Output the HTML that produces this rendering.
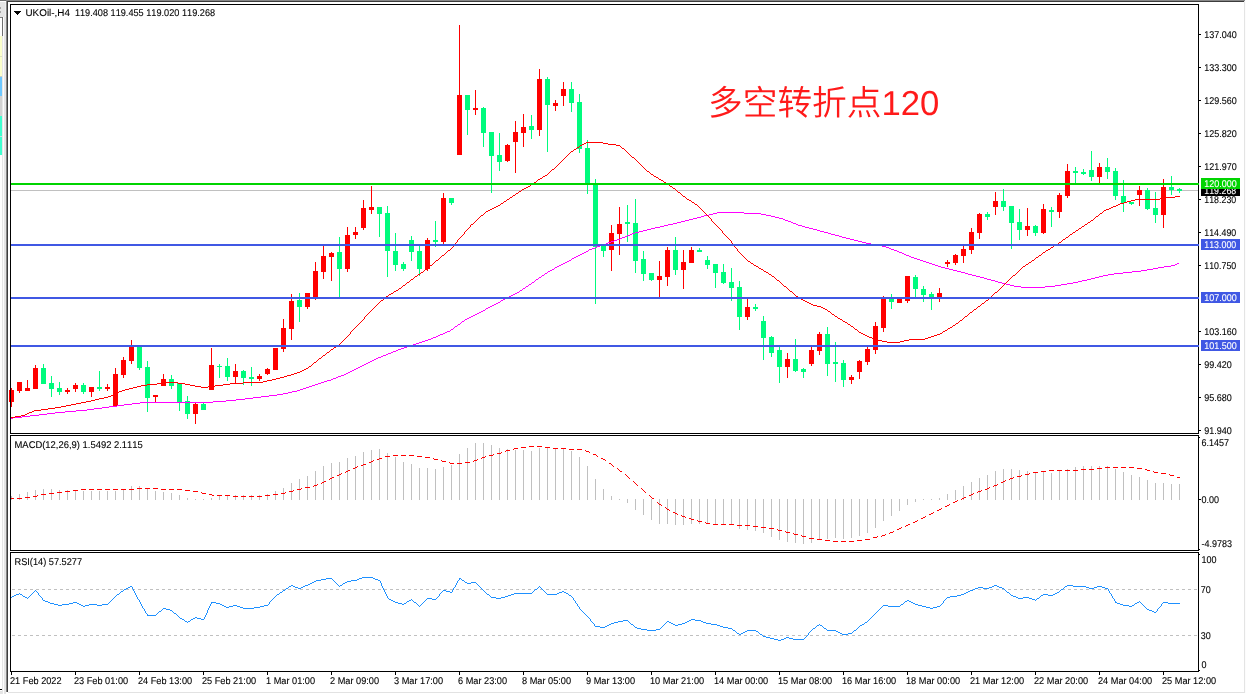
<!DOCTYPE html>
<html lang="zh"><head><meta charset="utf-8"><title>UKOil-,H4</title>
<style>html,body{margin:0;padding:0;background:#fff;overflow:hidden}svg{display:block}</style></head>
<body>
<svg width="1246" height="694" viewBox="0 0 1246 694" shape-rendering="crispEdges" font-family="'Liberation Sans', sans-serif" font-size="9.8px" text-rendering="geometricPrecision" style="font-kerning:none;font-variant-ligatures:none">
<rect x="0" y="0" width="1246" height="694" fill="#ffffff"/>
<g id="frame">
<rect x="0" y="2" width="6" height="15" fill="#e5e5e5"/>
<rect x="5" y="2" width="1" height="15" fill="#eeeeee"/>
<rect x="2" y="17" width="1" height="676" fill="#e6e6e6"/>
<rect x="3" y="17" width="1" height="676" fill="#fcfcfc"/>
<rect x="4" y="17" width="2" height="676" fill="#e4e4e4"/>
<rect x="0" y="17" width="2" height="19" fill="#ffffff"/>
<rect x="0" y="36" width="2" height="20" fill="#fbffcc"/>
<rect x="0" y="57" width="2" height="19" fill="#fbffcc"/>
<rect x="0" y="77" width="2" height="19" fill="#6ec8ff"/>
<rect x="0" y="96" width="2" height="20" fill="#d2d2d2"/>
<rect x="0" y="116" width="2" height="20" fill="#40ffd0"/>
<rect x="0" y="137" width="2" height="18" fill="#40ffd0"/>
<rect x="0" y="17" width="3" height="1" fill="#808080"/>
<rect x="2" y="17" width="1" height="19" fill="#707070"/>
<rect x="0" y="56" width="2" height="1" fill="#e0e4c0"/>
<rect x="0" y="76" width="2" height="1" fill="#c8d0c8"/>
<rect x="0" y="136" width="2" height="1" fill="#c0e8e0"/>
<rect x="0" y="7" width="1" height="2" fill="#a8a8a8"/>
<rect x="0" y="11" width="1" height="2" fill="#a8a8a8"/>
<rect x="6" y="1" width="1" height="691" fill="#858585"/>
<rect x="7" y="1" width="1" height="691" fill="#3e3e3e"/>
<rect x="0" y="0" width="6" height="1" fill="#707070"/>
<rect x="6" y="0" width="1239" height="1" fill="#888888"/>
<rect x="7" y="1" width="1237" height="1" fill="#3c3c3c"/>
<rect x="1244" y="1" width="1" height="692" fill="#e4e4e4"/>
<rect x="1245" y="0" width="1" height="694" fill="#fcfcfc"/>
<rect x="8" y="692" width="1237" height="1" fill="#e2e2e2"/>
<rect x="0" y="693" width="1246" height="1" fill="#ffffff"/>
<rect x="0" y="689" width="2" height="1" fill="#000000"/>
<rect x="0" y="691" width="2" height="3" fill="#e4e4e4"/>
<rect x="2" y="692" width="1" height="2" fill="#e6e6e6"/>
<rect x="4" y="692" width="2" height="2" fill="#e4e4e4"/>
</g>
<rect x="11" y="190" width="1187" height="1" fill="#c0c0c0"/>
<g id="candles">
<rect x="11" y="388" width="1" height="19" fill="#ff0000"/>
<rect x="9" y="390" width="5" height="12" fill="#ff0000"/>
<rect x="19" y="382" width="1" height="11" fill="#ff0000"/>
<rect x="17" y="382" width="5" height="9" fill="#ff0000"/>
<rect x="27" y="380" width="1" height="11" fill="#ff0000"/>
<rect x="25" y="388" width="5" height="3" fill="#ff0000"/>
<rect x="35" y="365" width="1" height="24" fill="#ff0000"/>
<rect x="33" y="368" width="5" height="21" fill="#ff0000"/>
<rect x="43" y="364" width="1" height="20" fill="#00fb7d"/>
<rect x="41" y="368" width="5" height="16" fill="#00fb7d"/>
<rect x="51" y="376" width="1" height="21" fill="#00fb7d"/>
<rect x="49" y="383" width="5" height="6" fill="#00fb7d"/>
<rect x="59" y="382" width="1" height="13" fill="#00fb7d"/>
<rect x="57" y="388" width="5" height="4" fill="#00fb7d"/>
<rect x="67" y="388" width="1" height="6" fill="#ff0000"/>
<rect x="65" y="390" width="5" height="2" fill="#ff0000"/>
<rect x="75" y="383" width="1" height="9" fill="#ff0000"/>
<rect x="73" y="385" width="5" height="4" fill="#ff0000"/>
<rect x="83" y="383" width="1" height="11" fill="#00fb7d"/>
<rect x="81" y="385" width="5" height="7" fill="#00fb7d"/>
<rect x="91" y="387" width="1" height="10" fill="#ff0000"/>
<rect x="89" y="387" width="5" height="5" fill="#ff0000"/>
<rect x="99" y="371" width="1" height="20" fill="#00fb7d"/>
<rect x="97" y="387" width="5" height="2" fill="#00fb7d"/>
<rect x="107" y="384" width="1" height="7" fill="#ff0000"/>
<rect x="105" y="387" width="5" height="2" fill="#ff0000"/>
<rect x="115" y="368" width="1" height="38" fill="#ff0000"/>
<rect x="113" y="374" width="5" height="32" fill="#ff0000"/>
<rect x="123" y="357" width="1" height="21" fill="#ff0000"/>
<rect x="121" y="360" width="5" height="15" fill="#ff0000"/>
<rect x="131" y="340" width="1" height="24" fill="#ff0000"/>
<rect x="129" y="345" width="5" height="16" fill="#ff0000"/>
<rect x="139" y="345" width="1" height="25" fill="#00fb7d"/>
<rect x="137" y="345" width="5" height="23" fill="#00fb7d"/>
<rect x="147" y="361" width="1" height="51" fill="#00fb7d"/>
<rect x="145" y="367" width="5" height="31" fill="#00fb7d"/>
<rect x="155" y="395" width="1" height="7" fill="#ff0000"/>
<rect x="153" y="395" width="5" height="2" fill="#ff0000"/>
<rect x="163" y="374" width="1" height="12" fill="#ff0000"/>
<rect x="161" y="379" width="5" height="7" fill="#ff0000"/>
<rect x="171" y="375" width="1" height="14" fill="#00fb7d"/>
<rect x="169" y="379" width="5" height="7" fill="#00fb7d"/>
<rect x="179" y="383" width="1" height="28" fill="#00fb7d"/>
<rect x="177" y="383" width="5" height="20" fill="#00fb7d"/>
<rect x="187" y="396" width="1" height="23" fill="#00fb7d"/>
<rect x="185" y="401" width="5" height="13" fill="#00fb7d"/>
<rect x="195" y="403" width="1" height="21" fill="#ff0000"/>
<rect x="193" y="404" width="5" height="10" fill="#ff0000"/>
<rect x="203" y="403" width="1" height="7" fill="#00fb7d"/>
<rect x="201" y="404" width="5" height="6" fill="#00fb7d"/>
<rect x="211" y="348" width="1" height="42" fill="#ff0000"/>
<rect x="209" y="365" width="5" height="25" fill="#ff0000"/>
<rect x="219" y="364" width="1" height="14" fill="#00fb7d"/>
<rect x="217" y="366" width="5" height="1" fill="#00fb7d"/>
<rect x="227" y="358" width="1" height="23" fill="#00fb7d"/>
<rect x="225" y="366" width="5" height="11" fill="#00fb7d"/>
<rect x="235" y="364" width="1" height="20" fill="#ff0000"/>
<rect x="233" y="371" width="5" height="6" fill="#ff0000"/>
<rect x="243" y="370" width="1" height="15" fill="#00fb7d"/>
<rect x="241" y="371" width="5" height="7" fill="#00fb7d"/>
<rect x="251" y="367" width="1" height="19" fill="#00fb7d"/>
<rect x="249" y="377" width="5" height="2" fill="#00fb7d"/>
<rect x="259" y="374" width="1" height="7" fill="#ff0000"/>
<rect x="257" y="376" width="5" height="3" fill="#ff0000"/>
<rect x="267" y="368" width="1" height="7" fill="#ff0000"/>
<rect x="265" y="369" width="5" height="5" fill="#ff0000"/>
<rect x="275" y="348" width="1" height="22" fill="#ff0000"/>
<rect x="273" y="348" width="5" height="22" fill="#ff0000"/>
<rect x="283" y="319" width="1" height="33" fill="#ff0000"/>
<rect x="281" y="328" width="5" height="21" fill="#ff0000"/>
<rect x="291" y="294" width="1" height="46" fill="#ff0000"/>
<rect x="289" y="301" width="5" height="28" fill="#ff0000"/>
<rect x="299" y="293" width="1" height="29" fill="#00fb7d"/>
<rect x="297" y="300" width="5" height="7" fill="#00fb7d"/>
<rect x="307" y="293" width="1" height="16" fill="#ff0000"/>
<rect x="305" y="293" width="5" height="14" fill="#ff0000"/>
<rect x="315" y="262" width="1" height="38" fill="#ff0000"/>
<rect x="313" y="271" width="5" height="28" fill="#ff0000"/>
<rect x="323" y="246" width="1" height="33" fill="#ff0000"/>
<rect x="321" y="256" width="5" height="16" fill="#ff0000"/>
<rect x="331" y="252" width="1" height="29" fill="#ff0000"/>
<rect x="329" y="253" width="5" height="4" fill="#ff0000"/>
<rect x="339" y="237" width="1" height="60" fill="#00fb7d"/>
<rect x="337" y="252" width="5" height="17" fill="#00fb7d"/>
<rect x="347" y="227" width="1" height="45" fill="#ff0000"/>
<rect x="345" y="235" width="5" height="34" fill="#ff0000"/>
<rect x="355" y="227" width="1" height="12" fill="#ff0000"/>
<rect x="353" y="232" width="5" height="3" fill="#ff0000"/>
<rect x="363" y="200" width="1" height="30" fill="#ff0000"/>
<rect x="361" y="208" width="5" height="20" fill="#ff0000"/>
<rect x="371" y="186" width="1" height="28" fill="#ff0000"/>
<rect x="369" y="207" width="5" height="3" fill="#ff0000"/>
<rect x="379" y="207" width="1" height="30" fill="#00fb7d"/>
<rect x="377" y="207" width="5" height="7" fill="#00fb7d"/>
<rect x="387" y="206" width="1" height="71" fill="#00fb7d"/>
<rect x="385" y="213" width="5" height="38" fill="#00fb7d"/>
<rect x="395" y="233" width="1" height="38" fill="#00fb7d"/>
<rect x="393" y="251" width="5" height="14" fill="#00fb7d"/>
<rect x="403" y="262" width="1" height="9" fill="#00fb7d"/>
<rect x="401" y="264" width="5" height="5" fill="#00fb7d"/>
<rect x="411" y="236" width="1" height="25" fill="#00fb7d"/>
<rect x="409" y="240" width="5" height="12" fill="#00fb7d"/>
<rect x="419" y="246" width="1" height="30" fill="#00fb7d"/>
<rect x="417" y="251" width="5" height="18" fill="#00fb7d"/>
<rect x="427" y="238" width="1" height="33" fill="#ff0000"/>
<rect x="425" y="240" width="5" height="29" fill="#ff0000"/>
<rect x="435" y="221" width="1" height="26" fill="#00fb7d"/>
<rect x="433" y="240" width="5" height="2" fill="#00fb7d"/>
<rect x="443" y="193" width="1" height="51" fill="#ff0000"/>
<rect x="441" y="198" width="5" height="44" fill="#ff0000"/>
<rect x="451" y="198" width="1" height="7" fill="#00fb7d"/>
<rect x="449" y="198" width="5" height="5" fill="#00fb7d"/>
<rect x="459" y="25" width="1" height="130" fill="#ff0000"/>
<rect x="457" y="95" width="5" height="60" fill="#ff0000"/>
<rect x="467" y="95" width="1" height="40" fill="#00fb7d"/>
<rect x="465" y="95" width="5" height="15" fill="#00fb7d"/>
<rect x="475" y="90" width="1" height="25" fill="#ff0000"/>
<rect x="473" y="108" width="5" height="2" fill="#ff0000"/>
<rect x="483" y="107" width="1" height="40" fill="#00fb7d"/>
<rect x="481" y="108" width="5" height="25" fill="#00fb7d"/>
<rect x="491" y="132" width="1" height="61" fill="#00fb7d"/>
<rect x="489" y="132" width="5" height="24" fill="#00fb7d"/>
<rect x="499" y="133" width="1" height="38" fill="#00fb7d"/>
<rect x="497" y="155" width="5" height="7" fill="#00fb7d"/>
<rect x="507" y="144" width="1" height="18" fill="#ff0000"/>
<rect x="505" y="145" width="5" height="16" fill="#ff0000"/>
<rect x="515" y="121" width="1" height="52" fill="#ff0000"/>
<rect x="513" y="132" width="5" height="10" fill="#ff0000"/>
<rect x="523" y="114" width="1" height="33" fill="#ff0000"/>
<rect x="521" y="127" width="5" height="6" fill="#ff0000"/>
<rect x="531" y="115" width="1" height="24" fill="#00fb7d"/>
<rect x="529" y="126" width="5" height="4" fill="#00fb7d"/>
<rect x="539" y="69" width="1" height="67" fill="#ff0000"/>
<rect x="537" y="79" width="5" height="51" fill="#ff0000"/>
<rect x="547" y="77" width="1" height="75" fill="#00fb7d"/>
<rect x="545" y="79" width="5" height="26" fill="#00fb7d"/>
<rect x="555" y="100" width="1" height="11" fill="#ff0000"/>
<rect x="553" y="103" width="5" height="3" fill="#ff0000"/>
<rect x="563" y="82" width="1" height="24" fill="#ff0000"/>
<rect x="561" y="89" width="5" height="7" fill="#ff0000"/>
<rect x="571" y="82" width="1" height="30" fill="#00fb7d"/>
<rect x="569" y="89" width="5" height="14" fill="#00fb7d"/>
<rect x="579" y="94" width="1" height="59" fill="#00fb7d"/>
<rect x="577" y="102" width="5" height="47" fill="#00fb7d"/>
<rect x="587" y="140" width="1" height="54" fill="#00fb7d"/>
<rect x="585" y="148" width="5" height="36" fill="#00fb7d"/>
<rect x="595" y="179" width="1" height="125" fill="#00fb7d"/>
<rect x="593" y="184" width="5" height="63" fill="#00fb7d"/>
<rect x="603" y="244" width="1" height="13" fill="#00fb7d"/>
<rect x="601" y="245" width="5" height="6" fill="#00fb7d"/>
<rect x="611" y="225" width="1" height="46" fill="#ff0000"/>
<rect x="609" y="233" width="5" height="17" fill="#ff0000"/>
<rect x="619" y="207" width="1" height="48" fill="#ff0000"/>
<rect x="617" y="224" width="5" height="10" fill="#ff0000"/>
<rect x="627" y="205" width="1" height="37" fill="#00fb7d"/>
<rect x="625" y="222" width="5" height="2" fill="#00fb7d"/>
<rect x="635" y="199" width="1" height="74" fill="#00fb7d"/>
<rect x="633" y="223" width="5" height="38" fill="#00fb7d"/>
<rect x="643" y="251" width="1" height="30" fill="#00fb7d"/>
<rect x="641" y="259" width="5" height="15" fill="#00fb7d"/>
<rect x="651" y="273" width="1" height="8" fill="#00fb7d"/>
<rect x="649" y="273" width="5" height="7" fill="#00fb7d"/>
<rect x="659" y="261" width="1" height="37" fill="#ff0000"/>
<rect x="657" y="276" width="5" height="4" fill="#ff0000"/>
<rect x="667" y="247" width="1" height="39" fill="#ff0000"/>
<rect x="665" y="250" width="5" height="27" fill="#ff0000"/>
<rect x="675" y="237" width="1" height="38" fill="#00fb7d"/>
<rect x="673" y="250" width="5" height="20" fill="#00fb7d"/>
<rect x="683" y="250" width="1" height="39" fill="#ff0000"/>
<rect x="681" y="262" width="5" height="8" fill="#ff0000"/>
<rect x="691" y="247" width="1" height="16" fill="#ff0000"/>
<rect x="689" y="250" width="5" height="13" fill="#ff0000"/>
<rect x="699" y="248" width="1" height="4" fill="#00fb7d"/>
<rect x="697" y="250" width="5" height="2" fill="#00fb7d"/>
<rect x="707" y="256" width="1" height="13" fill="#00fb7d"/>
<rect x="705" y="260" width="5" height="5" fill="#00fb7d"/>
<rect x="715" y="264" width="1" height="24" fill="#00fb7d"/>
<rect x="713" y="264" width="5" height="9" fill="#00fb7d"/>
<rect x="723" y="264" width="1" height="20" fill="#00fb7d"/>
<rect x="721" y="272" width="5" height="11" fill="#00fb7d"/>
<rect x="731" y="268" width="1" height="33" fill="#00fb7d"/>
<rect x="729" y="282" width="5" height="6" fill="#00fb7d"/>
<rect x="739" y="281" width="1" height="49" fill="#00fb7d"/>
<rect x="737" y="287" width="5" height="30" fill="#00fb7d"/>
<rect x="747" y="299" width="1" height="21" fill="#ff0000"/>
<rect x="745" y="307" width="5" height="10" fill="#ff0000"/>
<rect x="755" y="304" width="1" height="7" fill="#00fb7d"/>
<rect x="753" y="307" width="5" height="2" fill="#00fb7d"/>
<rect x="763" y="316" width="1" height="44" fill="#00fb7d"/>
<rect x="761" y="321" width="5" height="17" fill="#00fb7d"/>
<rect x="771" y="336" width="1" height="21" fill="#00fb7d"/>
<rect x="769" y="337" width="5" height="16" fill="#00fb7d"/>
<rect x="779" y="347" width="1" height="36" fill="#00fb7d"/>
<rect x="777" y="350" width="5" height="17" fill="#00fb7d"/>
<rect x="787" y="353" width="1" height="25" fill="#ff0000"/>
<rect x="785" y="359" width="5" height="8" fill="#ff0000"/>
<rect x="795" y="339" width="1" height="33" fill="#00fb7d"/>
<rect x="793" y="359" width="5" height="12" fill="#00fb7d"/>
<rect x="803" y="368" width="1" height="10" fill="#00fb7d"/>
<rect x="801" y="369" width="5" height="3" fill="#00fb7d"/>
<rect x="811" y="347" width="1" height="19" fill="#ff0000"/>
<rect x="809" y="350" width="5" height="14" fill="#ff0000"/>
<rect x="819" y="332" width="1" height="23" fill="#ff0000"/>
<rect x="817" y="334" width="5" height="17" fill="#ff0000"/>
<rect x="827" y="327" width="1" height="49" fill="#00fb7d"/>
<rect x="825" y="334" width="5" height="30" fill="#00fb7d"/>
<rect x="835" y="342" width="1" height="40" fill="#00fb7d"/>
<rect x="833" y="362" width="5" height="2" fill="#00fb7d"/>
<rect x="843" y="360" width="1" height="27" fill="#00fb7d"/>
<rect x="841" y="363" width="5" height="17" fill="#00fb7d"/>
<rect x="851" y="375" width="1" height="9" fill="#ff0000"/>
<rect x="849" y="377" width="5" height="3" fill="#ff0000"/>
<rect x="859" y="360" width="1" height="19" fill="#ff0000"/>
<rect x="857" y="361" width="5" height="11" fill="#ff0000"/>
<rect x="867" y="347" width="1" height="18" fill="#ff0000"/>
<rect x="865" y="349" width="5" height="13" fill="#ff0000"/>
<rect x="875" y="322" width="1" height="32" fill="#ff0000"/>
<rect x="873" y="326" width="5" height="24" fill="#ff0000"/>
<rect x="883" y="296" width="1" height="36" fill="#ff0000"/>
<rect x="881" y="297" width="5" height="31" fill="#ff0000"/>
<rect x="891" y="294" width="1" height="15" fill="#00fb7d"/>
<rect x="889" y="299" width="5" height="3" fill="#00fb7d"/>
<rect x="899" y="297" width="1" height="6" fill="#ff0000"/>
<rect x="897" y="298" width="5" height="5" fill="#ff0000"/>
<rect x="907" y="276" width="1" height="27" fill="#ff0000"/>
<rect x="905" y="276" width="5" height="25" fill="#ff0000"/>
<rect x="915" y="275" width="1" height="23" fill="#00fb7d"/>
<rect x="913" y="277" width="5" height="12" fill="#00fb7d"/>
<rect x="923" y="286" width="1" height="16" fill="#00fb7d"/>
<rect x="921" y="289" width="5" height="6" fill="#00fb7d"/>
<rect x="931" y="292" width="1" height="18" fill="#00fb7d"/>
<rect x="929" y="294" width="5" height="4" fill="#00fb7d"/>
<rect x="939" y="288" width="1" height="14" fill="#ff0000"/>
<rect x="937" y="293" width="5" height="5" fill="#ff0000"/>
<rect x="947" y="260" width="1" height="7" fill="#ff0000"/>
<rect x="945" y="262" width="5" height="2" fill="#ff0000"/>
<rect x="955" y="254" width="1" height="11" fill="#ff0000"/>
<rect x="953" y="255" width="5" height="8" fill="#ff0000"/>
<rect x="963" y="246" width="1" height="17" fill="#ff0000"/>
<rect x="961" y="249" width="5" height="7" fill="#ff0000"/>
<rect x="971" y="228" width="1" height="26" fill="#ff0000"/>
<rect x="969" y="232" width="5" height="18" fill="#ff0000"/>
<rect x="979" y="213" width="1" height="26" fill="#ff0000"/>
<rect x="977" y="214" width="5" height="19" fill="#ff0000"/>
<rect x="987" y="212" width="1" height="8" fill="#00fb7d"/>
<rect x="985" y="214" width="5" height="3" fill="#00fb7d"/>
<rect x="995" y="192" width="1" height="23" fill="#ff0000"/>
<rect x="993" y="201" width="5" height="6" fill="#ff0000"/>
<rect x="1003" y="189" width="1" height="22" fill="#00fb7d"/>
<rect x="1001" y="201" width="5" height="6" fill="#00fb7d"/>
<rect x="1011" y="206" width="1" height="43" fill="#00fb7d"/>
<rect x="1009" y="206" width="5" height="17" fill="#00fb7d"/>
<rect x="1019" y="209" width="1" height="31" fill="#00fb7d"/>
<rect x="1017" y="222" width="5" height="8" fill="#00fb7d"/>
<rect x="1027" y="208" width="1" height="28" fill="#ff0000"/>
<rect x="1025" y="226" width="5" height="4" fill="#ff0000"/>
<rect x="1035" y="225" width="1" height="11" fill="#00fb7d"/>
<rect x="1033" y="226" width="5" height="7" fill="#00fb7d"/>
<rect x="1043" y="204" width="1" height="30" fill="#ff0000"/>
<rect x="1041" y="209" width="5" height="24" fill="#ff0000"/>
<rect x="1051" y="207" width="1" height="20" fill="#00fb7d"/>
<rect x="1049" y="210" width="5" height="2" fill="#00fb7d"/>
<rect x="1059" y="193" width="1" height="25" fill="#ff0000"/>
<rect x="1057" y="195" width="5" height="17" fill="#ff0000"/>
<rect x="1067" y="164" width="1" height="34" fill="#ff0000"/>
<rect x="1065" y="171" width="5" height="25" fill="#ff0000"/>
<rect x="1075" y="167" width="1" height="17" fill="#00fb7d"/>
<rect x="1073" y="171" width="5" height="2" fill="#00fb7d"/>
<rect x="1083" y="169" width="1" height="6" fill="#00fb7d"/>
<rect x="1081" y="172" width="5" height="2" fill="#00fb7d"/>
<rect x="1091" y="151" width="1" height="30" fill="#00fb7d"/>
<rect x="1089" y="170" width="5" height="7" fill="#00fb7d"/>
<rect x="1099" y="163" width="1" height="21" fill="#ff0000"/>
<rect x="1097" y="167" width="5" height="10" fill="#ff0000"/>
<rect x="1107" y="158" width="1" height="21" fill="#00fb7d"/>
<rect x="1105" y="167" width="5" height="5" fill="#00fb7d"/>
<rect x="1115" y="168" width="1" height="32" fill="#00fb7d"/>
<rect x="1113" y="171" width="5" height="25" fill="#00fb7d"/>
<rect x="1123" y="180" width="1" height="32" fill="#00fb7d"/>
<rect x="1121" y="196" width="5" height="7" fill="#00fb7d"/>
<rect x="1131" y="202" width="1" height="3" fill="#00fb7d"/>
<rect x="1129" y="202" width="5" height="2" fill="#00fb7d"/>
<rect x="1139" y="186" width="1" height="20" fill="#ff0000"/>
<rect x="1137" y="190" width="5" height="5" fill="#ff0000"/>
<rect x="1147" y="188" width="1" height="22" fill="#00fb7d"/>
<rect x="1145" y="190" width="5" height="19" fill="#00fb7d"/>
<rect x="1155" y="192" width="1" height="31" fill="#00fb7d"/>
<rect x="1153" y="208" width="5" height="7" fill="#00fb7d"/>
<rect x="1163" y="179" width="1" height="49" fill="#ff0000"/>
<rect x="1161" y="187" width="5" height="28" fill="#ff0000"/>
<rect x="1171" y="176" width="1" height="19" fill="#00fb7d"/>
<rect x="1169" y="187" width="5" height="3" fill="#00fb7d"/>
<rect x="1179" y="188" width="1" height="5" fill="#00fb7d"/>
<rect x="1177" y="189" width="5" height="2" fill="#00fb7d"/>
</g>
<g id="macd">
<rect x="11" y="496" width="1" height="4" fill="#c0c0c0"/>
<rect x="19" y="494" width="1" height="6" fill="#c0c0c0"/>
<rect x="27" y="492" width="1" height="8" fill="#c0c0c0"/>
<rect x="35" y="490" width="1" height="10" fill="#c0c0c0"/>
<rect x="43" y="489" width="1" height="11" fill="#c0c0c0"/>
<rect x="51" y="489" width="1" height="11" fill="#c0c0c0"/>
<rect x="59" y="490" width="1" height="10" fill="#c0c0c0"/>
<rect x="67" y="490" width="1" height="10" fill="#c0c0c0"/>
<rect x="75" y="491" width="1" height="9" fill="#c0c0c0"/>
<rect x="83" y="491" width="1" height="9" fill="#c0c0c0"/>
<rect x="91" y="491" width="1" height="9" fill="#c0c0c0"/>
<rect x="99" y="491" width="1" height="9" fill="#c0c0c0"/>
<rect x="107" y="491" width="1" height="9" fill="#c0c0c0"/>
<rect x="115" y="491" width="1" height="9" fill="#c0c0c0"/>
<rect x="123" y="489" width="1" height="11" fill="#c0c0c0"/>
<rect x="131" y="486" width="1" height="14" fill="#c0c0c0"/>
<rect x="139" y="486" width="1" height="14" fill="#c0c0c0"/>
<rect x="147" y="489" width="1" height="11" fill="#c0c0c0"/>
<rect x="155" y="491" width="1" height="9" fill="#c0c0c0"/>
<rect x="163" y="492" width="1" height="8" fill="#c0c0c0"/>
<rect x="171" y="493" width="1" height="7" fill="#c0c0c0"/>
<rect x="179" y="495" width="1" height="5" fill="#c0c0c0"/>
<rect x="187" y="498" width="1" height="2" fill="#c0c0c0"/>
<rect x="195" y="499" width="1" height="1" fill="#c0c0c0"/>
<rect x="203" y="499" width="1" height="1" fill="#c0c0c0"/>
<rect x="211" y="498" width="1" height="2" fill="#c0c0c0"/>
<rect x="219" y="496" width="1" height="4" fill="#c0c0c0"/>
<rect x="227" y="495" width="1" height="5" fill="#c0c0c0"/>
<rect x="235" y="495" width="1" height="5" fill="#c0c0c0"/>
<rect x="243" y="495" width="1" height="5" fill="#c0c0c0"/>
<rect x="251" y="495" width="1" height="5" fill="#c0c0c0"/>
<rect x="259" y="495" width="1" height="5" fill="#c0c0c0"/>
<rect x="267" y="494" width="1" height="6" fill="#c0c0c0"/>
<rect x="275" y="491" width="1" height="9" fill="#c0c0c0"/>
<rect x="283" y="488" width="1" height="12" fill="#c0c0c0"/>
<rect x="291" y="483" width="1" height="17" fill="#c0c0c0"/>
<rect x="299" y="479" width="1" height="21" fill="#c0c0c0"/>
<rect x="307" y="476" width="1" height="24" fill="#c0c0c0"/>
<rect x="315" y="471" width="1" height="29" fill="#c0c0c0"/>
<rect x="323" y="466" width="1" height="34" fill="#c0c0c0"/>
<rect x="331" y="463" width="1" height="37" fill="#c0c0c0"/>
<rect x="339" y="462" width="1" height="38" fill="#c0c0c0"/>
<rect x="347" y="458" width="1" height="42" fill="#c0c0c0"/>
<rect x="355" y="456" width="1" height="44" fill="#c0c0c0"/>
<rect x="363" y="452" width="1" height="48" fill="#c0c0c0"/>
<rect x="371" y="450" width="1" height="50" fill="#c0c0c0"/>
<rect x="379" y="449" width="1" height="51" fill="#c0c0c0"/>
<rect x="387" y="453" width="1" height="47" fill="#c0c0c0"/>
<rect x="395" y="457" width="1" height="43" fill="#c0c0c0"/>
<rect x="403" y="462" width="1" height="38" fill="#c0c0c0"/>
<rect x="411" y="464" width="1" height="36" fill="#c0c0c0"/>
<rect x="419" y="468" width="1" height="32" fill="#c0c0c0"/>
<rect x="427" y="468" width="1" height="32" fill="#c0c0c0"/>
<rect x="435" y="469" width="1" height="31" fill="#c0c0c0"/>
<rect x="443" y="467" width="1" height="33" fill="#c0c0c0"/>
<rect x="451" y="465" width="1" height="35" fill="#c0c0c0"/>
<rect x="459" y="454" width="1" height="46" fill="#c0c0c0"/>
<rect x="467" y="448" width="1" height="52" fill="#c0c0c0"/>
<rect x="475" y="443" width="1" height="57" fill="#c0c0c0"/>
<rect x="483" y="443" width="1" height="57" fill="#c0c0c0"/>
<rect x="491" y="445" width="1" height="55" fill="#c0c0c0"/>
<rect x="499" y="448" width="1" height="52" fill="#c0c0c0"/>
<rect x="507" y="449" width="1" height="51" fill="#c0c0c0"/>
<rect x="515" y="450" width="1" height="50" fill="#c0c0c0"/>
<rect x="523" y="450" width="1" height="50" fill="#c0c0c0"/>
<rect x="531" y="451" width="1" height="49" fill="#c0c0c0"/>
<rect x="539" y="448" width="1" height="52" fill="#c0c0c0"/>
<rect x="547" y="448" width="1" height="52" fill="#c0c0c0"/>
<rect x="555" y="449" width="1" height="51" fill="#c0c0c0"/>
<rect x="563" y="449" width="1" height="51" fill="#c0c0c0"/>
<rect x="571" y="451" width="1" height="49" fill="#c0c0c0"/>
<rect x="579" y="457" width="1" height="43" fill="#c0c0c0"/>
<rect x="587" y="466" width="1" height="34" fill="#c0c0c0"/>
<rect x="595" y="479" width="1" height="21" fill="#c0c0c0"/>
<rect x="603" y="489" width="1" height="11" fill="#c0c0c0"/>
<rect x="611" y="496" width="1" height="4" fill="#c0c0c0"/>
<rect x="619" y="499" width="1" height="1" fill="#c0c0c0"/>
<rect x="627" y="499" width="1" height="4" fill="#c0c0c0"/>
<rect x="635" y="499" width="1" height="11" fill="#c0c0c0"/>
<rect x="643" y="499" width="1" height="16" fill="#c0c0c0"/>
<rect x="651" y="499" width="1" height="21" fill="#c0c0c0"/>
<rect x="659" y="499" width="1" height="25" fill="#c0c0c0"/>
<rect x="667" y="499" width="1" height="25" fill="#c0c0c0"/>
<rect x="675" y="499" width="1" height="26" fill="#c0c0c0"/>
<rect x="683" y="499" width="1" height="26" fill="#c0c0c0"/>
<rect x="691" y="499" width="1" height="25" fill="#c0c0c0"/>
<rect x="699" y="499" width="1" height="25" fill="#c0c0c0"/>
<rect x="707" y="499" width="1" height="25" fill="#c0c0c0"/>
<rect x="715" y="499" width="1" height="25" fill="#c0c0c0"/>
<rect x="723" y="499" width="1" height="26" fill="#c0c0c0"/>
<rect x="731" y="499" width="1" height="26" fill="#c0c0c0"/>
<rect x="739" y="499" width="1" height="30" fill="#c0c0c0"/>
<rect x="747" y="499" width="1" height="31" fill="#c0c0c0"/>
<rect x="755" y="499" width="1" height="32" fill="#c0c0c0"/>
<rect x="763" y="499" width="1" height="34" fill="#c0c0c0"/>
<rect x="771" y="499" width="1" height="38" fill="#c0c0c0"/>
<rect x="779" y="499" width="1" height="41" fill="#c0c0c0"/>
<rect x="787" y="499" width="1" height="43" fill="#c0c0c0"/>
<rect x="795" y="499" width="1" height="44" fill="#c0c0c0"/>
<rect x="803" y="499" width="1" height="45" fill="#c0c0c0"/>
<rect x="811" y="499" width="1" height="44" fill="#c0c0c0"/>
<rect x="819" y="499" width="1" height="41" fill="#c0c0c0"/>
<rect x="827" y="499" width="1" height="40" fill="#c0c0c0"/>
<rect x="835" y="499" width="1" height="39" fill="#c0c0c0"/>
<rect x="843" y="499" width="1" height="40" fill="#c0c0c0"/>
<rect x="851" y="499" width="1" height="39" fill="#c0c0c0"/>
<rect x="859" y="499" width="1" height="37" fill="#c0c0c0"/>
<rect x="867" y="499" width="1" height="34" fill="#c0c0c0"/>
<rect x="875" y="499" width="1" height="29" fill="#c0c0c0"/>
<rect x="883" y="499" width="1" height="22" fill="#c0c0c0"/>
<rect x="891" y="499" width="1" height="17" fill="#c0c0c0"/>
<rect x="899" y="499" width="1" height="12" fill="#c0c0c0"/>
<rect x="907" y="499" width="1" height="6" fill="#c0c0c0"/>
<rect x="915" y="499" width="1" height="3" fill="#c0c0c0"/>
<rect x="923" y="499" width="1" height="1" fill="#c0c0c0"/>
<rect x="931" y="499" width="1" height="1" fill="#c0c0c0"/>
<rect x="939" y="498" width="1" height="2" fill="#c0c0c0"/>
<rect x="947" y="494" width="1" height="6" fill="#c0c0c0"/>
<rect x="955" y="490" width="1" height="10" fill="#c0c0c0"/>
<rect x="963" y="486" width="1" height="14" fill="#c0c0c0"/>
<rect x="971" y="482" width="1" height="18" fill="#c0c0c0"/>
<rect x="979" y="478" width="1" height="22" fill="#c0c0c0"/>
<rect x="987" y="475" width="1" height="25" fill="#c0c0c0"/>
<rect x="995" y="471" width="1" height="29" fill="#c0c0c0"/>
<rect x="1003" y="469" width="1" height="31" fill="#c0c0c0"/>
<rect x="1011" y="469" width="1" height="31" fill="#c0c0c0"/>
<rect x="1019" y="470" width="1" height="30" fill="#c0c0c0"/>
<rect x="1027" y="471" width="1" height="29" fill="#c0c0c0"/>
<rect x="1035" y="472" width="1" height="28" fill="#c0c0c0"/>
<rect x="1043" y="472" width="1" height="28" fill="#c0c0c0"/>
<rect x="1051" y="473" width="1" height="27" fill="#c0c0c0"/>
<rect x="1059" y="471" width="1" height="29" fill="#c0c0c0"/>
<rect x="1067" y="469" width="1" height="31" fill="#c0c0c0"/>
<rect x="1075" y="467" width="1" height="33" fill="#c0c0c0"/>
<rect x="1083" y="466" width="1" height="34" fill="#c0c0c0"/>
<rect x="1091" y="466" width="1" height="34" fill="#c0c0c0"/>
<rect x="1099" y="466" width="1" height="34" fill="#c0c0c0"/>
<rect x="1107" y="466" width="1" height="34" fill="#c0c0c0"/>
<rect x="1115" y="469" width="1" height="31" fill="#c0c0c0"/>
<rect x="1123" y="472" width="1" height="28" fill="#c0c0c0"/>
<rect x="1131" y="475" width="1" height="25" fill="#c0c0c0"/>
<rect x="1139" y="477" width="1" height="23" fill="#c0c0c0"/>
<rect x="1147" y="480" width="1" height="20" fill="#c0c0c0"/>
<rect x="1155" y="483" width="1" height="17" fill="#c0c0c0"/>
<rect x="1163" y="483" width="1" height="17" fill="#c0c0c0"/>
<rect x="1171" y="484" width="1" height="16" fill="#c0c0c0"/>
<rect x="1179" y="484" width="1" height="16" fill="#c0c0c0"/>
<path fill="#ff0000" d="M10 499h1v1h-1zM11 498h3v1h-3zM17 498h5v1h-5zM25 497h5v1h-5zM33 496h4v1h-4zM37 495h1v1h-1zM41 494h5v1h-5zM49 493h5v1h-5zM57 492h5v1h-5zM65 491h5v1h-5zM73 490h5v1h-5zM81 489h5v1h-5zM89 489h5v1h-5zM97 489h5v1h-5zM105 489h5v1h-5zM113 489h5v1h-5zM121 489h5v1h-5zM129 489h5v1h-5zM137 488h5v1h-5zM145 488h5v1h-5zM153 488h5v1h-5zM161 489h5v1h-5zM169 489h5v1h-5zM177 489h5v1h-5zM185 490h5v1h-5zM193 491h5v1h-5zM201 492h1v1h-1zM202 493h4v1h-4zM209 494h3v1h-3zM212 495h2v1h-2zM217 495h5v1h-5zM225 495h5v1h-5zM233 496h5v1h-5zM241 496h5v1h-5zM249 496h5v1h-5zM257 496h5v1h-5zM265 495h5v1h-5zM273 494h5v1h-5zM281 493h4v1h-4zM285 492h1v1h-1zM289 491h4v1h-4zM293 490h1v1h-1zM297 489h4v1h-4zM301 488h1v1h-1zM305 487h5v1h-5zM313 486h1v1h-1zM314 485h3v1h-3zM317 484h1v1h-1zM321 483h1v1h-1zM322 482h2v1h-2zM324 481h2v1h-2zM329 479h1v1h-1zM330 478h2v1h-2zM332 477h2v1h-2zM337 475h2v1h-2zM339 474h2v1h-2zM341 473h1v1h-1zM345 472h1v1h-1zM346 471h2v1h-2zM348 470h2v1h-2zM353 468h2v1h-2zM355 467h2v1h-2zM357 466h1v1h-1zM361 465h2v1h-2zM363 464h3v1h-3zM369 462h2v1h-2zM371 461h2v1h-2zM373 460h1v1h-1zM377 459h2v1h-2zM379 458h3v1h-3zM385 456h5v1h-5zM393 455h5v1h-5zM401 455h5v1h-5zM409 455h5v1h-5zM417 456h5v1h-5zM425 457h5v1h-5zM433 458h1v1h-1zM434 459h4v1h-4zM441 460h1v1h-1zM442 461h4v1h-4zM449 462h1v1h-1zM450 463h4v1h-4zM457 463h5v1h-5zM465 462h5v1h-5zM473 461h1v1h-1zM474 460h3v1h-3zM477 459h1v1h-1zM481 458h1v1h-1zM482 457h3v1h-3zM485 456h1v1h-1zM489 455h4v1h-4zM493 454h1v1h-1zM497 453h4v1h-4zM501 452h1v1h-1zM505 451h1v1h-1zM506 450h4v1h-4zM513 449h1v1h-1zM514 448h4v1h-4zM521 447h5v1h-5zM529 446h5v1h-5zM537 446h5v1h-5zM545 447h5v1h-5zM553 448h5v1h-5zM561 448h5v1h-5zM569 449h5v1h-5zM577 449h5v1h-5zM585 450h1v1h-1zM586 451h3v1h-3zM589 452h1v1h-1zM593 454h3v1h-3zM596 455h1v1h-1zM597 456h1v1h-1zM601 458h2v1h-2zM603 459h2v1h-2zM605 460h1v1h-1zM609 463h2v1h-2zM611 464h1v1h-1zM612 465h1v1h-1zM613 466h1v1h-1zM617 468h1v1h-1zM618 469h1v1h-1zM619 470h1v1h-1zM620 471h2v1h-2zM625 474h1v1h-1zM626 475h1v1h-1zM627 476h1v1h-1zM628 477h1v1h-1zM629 478h1v1h-1zM633 481h1v1h-1zM634 482h1v1h-1zM635 483h1v1h-1zM636 484h1v1h-1zM637 485h1v1h-1zM641 488h1v1h-1zM642 489h1v1h-1zM643 490h1v1h-1zM644 491h1v1h-1zM645 492h1v1h-1zM649 495h1v1h-1zM650 496h1v1h-1zM651 497h1v1h-1zM652 498h2v1h-2zM657 502h1v1h-1zM658 503h1v1h-1zM659 504h2v1h-2zM661 505h1v1h-1zM665 507h1v1h-1zM666 508h1v1h-1zM667 509h2v1h-2zM669 510h1v1h-1zM673 512h2v1h-2zM675 513h2v1h-2zM677 514h1v1h-1zM681 515h1v1h-1zM682 516h3v1h-3zM685 517h1v1h-1zM689 518h2v1h-2zM691 519h3v1h-3zM697 520h1v1h-1zM698 521h4v1h-4zM705 522h1v1h-1zM706 523h4v1h-4zM713 524h5v1h-5zM721 524h5v1h-5zM729 524h5v1h-5zM737 525h5v1h-5zM745 525h5v1h-5zM753 526h5v1h-5zM761 527h5v1h-5zM769 528h5v1h-5zM777 529h1v1h-1zM778 530h4v1h-4zM785 531h1v1h-1zM786 532h4v1h-4zM793 533h1v1h-1zM794 534h4v1h-4zM801 535h1v1h-1zM802 536h4v1h-4zM809 538h5v1h-5zM817 539h5v1h-5zM825 540h5v1h-5zM833 541h5v1h-5zM841 541h5v1h-5zM849 541h5v1h-5zM857 540h5v1h-5zM865 539h5v1h-5zM873 537h4v1h-4zM877 536h1v1h-1zM881 536h1v1h-1zM882 535h3v1h-3zM885 534h1v1h-1zM889 533h1v1h-1zM890 532h3v1h-3zM893 531h1v1h-1zM897 529h2v1h-2zM899 528h2v1h-2zM901 527h1v1h-1zM905 526h1v1h-1zM906 525h2v1h-2zM908 524h2v1h-2zM913 522h2v1h-2zM915 521h2v1h-2zM917 520h1v1h-1zM921 518h2v1h-2zM923 517h2v1h-2zM925 516h1v1h-1zM929 514h2v1h-2zM931 513h2v1h-2zM933 512h1v1h-1zM937 510h2v1h-2zM939 509h2v1h-2zM941 508h1v1h-1zM945 506h2v1h-2zM947 505h2v1h-2zM949 504h1v1h-1zM953 502h2v1h-2zM955 501h2v1h-2zM957 500h1v1h-1zM961 499h1v1h-1zM962 498h2v1h-2zM964 497h2v1h-2zM969 495h2v1h-2zM971 494h2v1h-2zM973 493h1v1h-1zM977 492h1v1h-1zM978 491h3v1h-3zM981 490h1v1h-1zM985 489h2v1h-2zM987 488h2v1h-2zM989 487h1v1h-1zM993 486h1v1h-1zM994 485h3v1h-3zM997 484h1v1h-1zM1001 482h2v1h-2zM1003 481h2v1h-2zM1005 480h1v1h-1zM1009 479h1v1h-1zM1010 478h3v1h-3zM1013 477h1v1h-1zM1017 476h4v1h-4zM1021 475h1v1h-1zM1025 474h4v1h-4zM1029 473h1v1h-1zM1033 472h5v1h-5zM1041 471h5v1h-5zM1049 470h5v1h-5zM1057 470h5v1h-5zM1065 470h5v1h-5zM1073 470h5v1h-5zM1081 469h5v1h-5zM1089 469h5v1h-5zM1097 468h5v1h-5zM1105 467h5v1h-5zM1113 467h5v1h-5zM1121 467h5v1h-5zM1129 467h5v1h-5zM1137 468h5v1h-5zM1145 469h2v1h-2zM1147 470h3v1h-3zM1153 471h1v1h-1zM1154 472h4v1h-4zM1161 473h5v1h-5zM1169 474h1v1h-1zM1170 475h4v1h-4zM1177 477h3v1h-3z"/>
</g>
<g id="rsi">
<line x1="12" y1="589.5" x2="1198" y2="589.5" stroke="#c0c0c0" stroke-width="1" stroke-dasharray="3 3"/>
<line x1="12" y1="635.5" x2="1198" y2="635.5" stroke="#c0c0c0" stroke-width="1" stroke-dasharray="3 3"/>
<path fill="#1e90ff" d="M11 597h1v1h-1zM12 596h2v1h-2zM14 595h2v1h-2zM16 594h3v1h-3zM19 593h1v1h-1zM20 594h2v1h-2zM22 595h1v1h-1zM23 596h2v1h-2zM25 597h2v1h-2zM27 598h1v1h-1zM28 597h1v1h-1zM29 596h1v1h-1zM30 595h1v1h-1zM31 594h1v1h-1zM32 593h1v1h-1zM33 592h1v1h-1zM34 591h1v1h-1zM35 590h1v1h-1zM36 591h1v1h-1zM37 592h1v1h-1zM38 593h1v2h-1zM39 595h1v1h-1zM40 596h1v1h-1zM41 597h1v1h-1zM42 598h1v2h-1zM43 600h2v1h-2zM45 601h3v1h-3zM48 602h2v1h-2zM50 603h4v1h-4zM54 604h4v1h-4zM58 605h4v1h-4zM62 604h7v1h-7zM69 603h4v1h-4zM73 602h4v1h-4zM77 603h2v1h-2zM79 604h2v1h-2zM81 605h2v1h-2zM83 606h2v1h-2zM85 605h4v1h-4zM89 604h8v1h-8zM97 605h5v1h-5zM102 604h6v1h-6zM108 603h1v1h-1zM109 602h1v1h-1zM110 601h1v1h-1zM111 600h1v1h-1zM112 599h1v1h-1zM113 598h1v1h-1zM114 597h1v1h-1zM115 596h1v1h-1zM116 595h1v1h-1zM117 594h2v1h-2zM119 593h1v1h-1zM120 592h1v1h-1zM121 591h2v1h-2zM123 590h1v1h-1zM124 589h2v1h-2zM126 588h2v1h-2zM128 587h2v1h-2zM130 586h2v1h-2zM132 587h1v2h-1zM133 589h1v2h-1zM134 591h1v2h-1zM135 593h1v2h-1zM136 595h1v2h-1zM137 597h1v2h-1zM138 599h1v1h-1zM139 600h1v2h-1zM140 602h1v2h-1zM141 604h1v2h-1zM142 606h1v2h-1zM143 608h1v1h-1zM144 609h1v2h-1zM145 611h1v2h-1zM146 613h1v1h-1zM147 614h1v2h-1zM148 615h8v1h-8zM156 614h1v1h-1zM157 613h1v1h-1zM158 612h1v1h-1zM159 611h2v1h-2zM161 610h1v1h-1zM162 609h1v1h-1zM163 608h3v1h-3zM166 609h4v1h-4zM170 610h2v1h-2zM172 611h1v1h-1zM173 612h1v1h-1zM174 613h2v1h-2zM176 614h1v1h-1zM177 615h1v1h-1zM178 616h1v1h-1zM179 617h1v1h-1zM180 618h2v1h-2zM182 619h2v1h-2zM184 620h1v1h-1zM185 621h2v1h-2zM187 622h1v1h-1zM188 621h2v1h-2zM190 620h1v1h-1zM191 619h2v1h-2zM193 618h2v1h-2zM195 617h2v1h-2zM197 618h4v1h-4zM201 619h3v1h-3zM204 617h1v2h-1zM205 615h1v2h-1zM206 613h1v2h-1zM207 610h1v3h-1zM208 608h1v2h-1zM209 606h1v2h-1zM210 604h1v2h-1zM211 602h1v2h-1zM212 602h4v1h-4zM216 603h4v1h-4zM220 604h2v1h-2zM222 605h2v1h-2zM224 606h2v1h-2zM226 607h3v1h-3zM229 606h4v1h-4zM233 605h4v1h-4zM237 606h3v1h-3zM240 607h3v1h-3zM243 608h11v1h-11zM254 607h6v1h-6zM260 606h4v1h-4zM264 605h4v1h-4zM268 604h1v1h-1zM269 602h1v2h-1zM270 601h1v1h-1zM271 600h1v1h-1zM272 599h1v1h-1zM273 598h1v1h-1zM274 597h1v1h-1zM275 596h1v1h-1zM276 595h1v1h-1zM277 594h2v1h-2zM279 593h1v1h-1zM280 592h2v1h-2zM282 591h1v1h-1zM283 590h2v1h-2zM285 589h1v1h-1zM286 588h2v1h-2zM288 587h1v1h-1zM289 586h2v1h-2zM291 585h2v1h-2zM293 586h2v1h-2zM295 587h3v1h-3zM298 588h3v1h-3zM301 587h2v1h-2zM303 586h2v1h-2zM305 585h3v1h-3zM308 584h2v1h-2zM310 583h2v1h-2zM312 582h2v1h-2zM314 581h2v1h-2zM316 580h5v1h-5zM321 579h5v1h-5zM326 578h6v1h-6zM332 579h1v1h-1zM333 580h1v1h-1zM334 581h1v1h-1zM335 582h1v1h-1zM336 583h1v1h-1zM337 584h1v1h-1zM338 585h1v1h-1zM339 586h1v1h-1zM340 585h2v1h-2zM342 584h1v1h-1zM343 583h2v1h-2zM345 582h2v1h-2zM347 581h4v1h-4zM351 580h6v1h-6zM357 579h2v1h-2zM359 578h3v1h-3zM362 577h11v1h-11zM373 578h2v1h-2zM375 579h3v1h-3zM378 580h2v1h-2zM380 581h1v2h-1zM381 583h1v3h-1zM382 586h1v2h-1zM383 588h1v2h-1zM384 590h1v2h-1zM385 592h1v2h-1zM386 594h1v2h-1zM387 596h1v2h-1zM388 598h1v1h-1zM389 599h2v1h-2zM391 600h2v1h-2zM393 601h2v1h-2zM395 602h3v1h-3zM398 603h4v1h-4zM402 604h2v1h-2zM404 603h2v1h-2zM406 602h1v1h-1zM407 601h2v1h-2zM409 600h2v1h-2zM411 599h1v1h-1zM412 600h1v1h-1zM413 601h1v1h-1zM414 602h2v1h-2zM416 603h1v1h-1zM417 604h1v1h-1zM418 605h1v1h-1zM419 606h1v1h-1zM420 605h1v1h-1zM421 604h1v1h-1zM422 603h1v1h-1zM423 602h1v1h-1zM424 601h1v1h-1zM425 600h1v1h-1zM426 599h1v1h-1zM427 598h5v1h-5zM432 599h4v1h-4zM436 598h1v1h-1zM437 597h1v1h-1zM438 596h1v1h-1zM439 594h1v2h-1zM440 593h1v1h-1zM441 592h1v1h-1zM442 591h1v1h-1zM443 590h3v1h-3zM446 591h4v1h-4zM450 592h2v1h-2zM452 590h1v2h-1zM453 588h1v2h-1zM454 587h1v1h-1zM455 585h1v2h-1zM456 583h1v2h-1zM457 581h1v2h-1zM458 580h1v1h-1zM459 578h1v2h-1zM460 578h1v1h-1zM461 579h1v1h-1zM462 580h2v1h-2zM464 581h1v1h-1zM465 582h2v1h-2zM467 583h4v1h-4zM471 582h5v1h-5zM476 583h1v1h-1zM477 584h1v1h-1zM478 585h1v1h-1zM479 586h1v1h-1zM480 587h1v1h-1zM481 588h1v1h-1zM482 589h1v1h-1zM483 590h1v1h-1zM484 591h1v1h-1zM485 592h1v1h-1zM486 593h1v1h-1zM487 594h2v1h-2zM489 595h1v1h-1zM490 596h1v1h-1zM491 597h5v1h-5zM496 598h5v1h-5zM501 597h4v1h-4zM505 596h3v1h-3zM508 595h3v1h-3zM511 594h3v1h-3zM514 593h18v1h-18zM532 592h1v1h-1zM533 591h1v1h-1zM534 590h1v1h-1zM535 589h2v1h-2zM537 588h1v1h-1zM538 587h1v1h-1zM539 586h1v1h-1zM540 587h1v1h-1zM541 588h1v1h-1zM542 589h1v1h-1zM543 590h1v1h-1zM544 591h1v1h-1zM545 592h1v1h-1zM546 593h1v1h-1zM547 594h10v1h-10zM557 593h2v1h-2zM559 592h3v1h-3zM562 591h2v1h-2zM564 592h2v1h-2zM566 593h2v1h-2zM568 594h1v1h-1zM569 595h2v1h-2zM571 596h1v1h-1zM572 597h1v1h-1zM573 598h1v2h-1zM574 600h1v1h-1zM575 601h1v2h-1zM576 603h1v1h-1zM577 604h1v2h-1zM578 606h1v1h-1zM579 607h1v2h-1zM580 609h1v1h-1zM581 610h1v1h-1zM582 611h1v1h-1zM583 612h1v1h-1zM584 613h1v1h-1zM585 614h1v1h-1zM586 615h1v1h-1zM587 616h1v1h-1zM588 617h1v1h-1zM589 618h1v1h-1zM590 619h1v2h-1zM591 621h1v1h-1zM592 622h1v1h-1zM593 623h1v1h-1zM594 624h1v2h-1zM595 626h5v1h-5zM600 627h5v1h-5zM605 626h2v1h-2zM607 625h2v1h-2zM609 624h2v1h-2zM611 623h3v1h-3zM614 622h4v1h-4zM618 621h5v1h-5zM623 620h5v1h-5zM628 621h1v1h-1zM629 622h1v1h-1zM630 623h1v1h-1zM631 624h2v1h-2zM633 625h1v1h-1zM634 626h1v1h-1zM635 627h2v1h-2zM637 628h4v1h-4zM641 629h6v1h-6zM647 630h9v1h-9zM656 629h4v1h-4zM660 628h1v1h-1zM661 627h1v1h-1zM662 626h1v1h-1zM663 625h1v1h-1zM664 624h1v1h-1zM665 623h1v1h-1zM666 622h1v1h-1zM667 621h2v1h-2zM669 622h2v1h-2zM671 623h2v1h-2zM673 624h2v1h-2zM675 625h3v1h-3zM678 624h4v1h-4zM682 623h3v1h-3zM685 622h2v1h-2zM687 621h2v1h-2zM689 620h2v1h-2zM691 619h4v1h-4zM695 620h6v1h-6zM701 621h2v1h-2zM703 622h3v1h-3zM706 623h5v1h-5zM711 624h6v1h-6zM717 625h3v1h-3zM720 626h3v1h-3zM723 627h5v1h-5zM728 628h4v1h-4zM732 629h1v1h-1zM733 630h2v1h-2zM735 631h1v1h-1zM736 632h1v1h-1zM737 633h2v1h-2zM739 634h2v1h-2zM741 633h2v1h-2zM743 632h2v1h-2zM745 631h2v1h-2zM747 630h9v1h-9zM756 631h2v1h-2zM758 632h1v1h-1zM759 633h1v1h-1zM760 634h2v1h-2zM762 635h1v1h-1zM763 636h3v1h-3zM766 637h4v1h-4zM770 638h4v1h-4zM774 639h4v1h-4zM778 640h3v1h-3zM781 639h3v1h-3zM784 638h2v1h-2zM786 637h3v1h-3zM789 638h4v1h-4zM793 639h11v1h-11zM804 638h1v1h-1zM805 637h1v1h-1zM806 636h1v1h-1zM807 635h1v1h-1zM808 633h1v2h-1zM809 632h1v1h-1zM810 631h1v1h-1zM811 630h1v1h-1zM812 629h1v1h-1zM813 628h2v1h-2zM815 627h1v1h-1zM816 626h1v1h-1zM817 625h2v1h-2zM819 624h1v1h-1zM820 625h2v1h-2zM822 626h1v1h-1zM823 627h1v1h-1zM824 628h2v1h-2zM826 629h1v1h-1zM827 630h9v1h-9zM836 631h2v1h-2zM838 632h2v1h-2zM840 633h2v1h-2zM842 634h6v1h-6zM848 633h4v1h-4zM852 632h1v1h-1zM853 631h1v1h-1zM854 630h2v1h-2zM856 629h1v1h-1zM857 628h1v1h-1zM858 627h1v1h-1zM859 626h1v1h-1zM860 625h2v1h-2zM862 624h2v1h-2zM864 623h1v1h-1zM865 622h2v1h-2zM867 621h1v1h-1zM868 620h1v1h-1zM869 619h1v1h-1zM870 618h1v1h-1zM871 617h1v1h-1zM872 616h1v1h-1zM873 615h1v1h-1zM874 614h1v1h-1zM875 613h1v1h-1zM876 612h1v1h-1zM877 611h1v1h-1zM878 610h1v1h-1zM879 609h1v1h-1zM880 608h1v1h-1zM881 607h1v1h-1zM882 606h1v1h-1zM883 605h5v1h-5zM888 606h12v1h-12zM900 605h1v1h-1zM901 604h2v1h-2zM903 603h1v1h-1zM904 602h1v1h-1zM905 601h2v1h-2zM907 600h2v1h-2zM909 601h2v1h-2zM911 602h2v1h-2zM913 603h2v1h-2zM915 604h3v1h-3zM918 605h4v1h-4zM922 606h4v1h-4zM926 607h4v1h-4zM930 608h3v1h-3zM933 607h4v1h-4zM937 606h3v1h-3zM940 605h1v1h-1zM941 604h1v1h-1zM942 603h1v1h-1zM943 601h1v2h-1zM944 600h1v1h-1zM945 599h1v1h-1zM946 598h1v1h-1zM947 597h3v1h-3zM950 596h7v1h-7zM957 595h4v1h-4zM961 594h3v1h-3zM964 593h2v1h-2zM966 592h2v1h-2zM968 591h2v1h-2zM970 590h3v1h-3zM973 589h2v1h-2zM975 588h3v1h-3zM978 587h5v1h-5zM983 588h6v1h-6zM989 587h3v1h-3zM992 586h2v1h-2zM994 585h3v1h-3zM997 586h2v1h-2zM999 587h3v1h-3zM1002 588h2v1h-2zM1004 589h1v1h-1zM1005 590h1v1h-1zM1006 591h1v1h-1zM1007 592h2v1h-2zM1009 593h1v1h-1zM1010 594h1v1h-1zM1011 595h2v1h-2zM1013 596h3v1h-3zM1016 597h2v1h-2zM1018 598h5v1h-5zM1023 597h6v1h-6zM1029 598h3v1h-3zM1032 599h3v1h-3zM1035 600h1v1h-1zM1036 599h1v1h-1zM1037 598h2v1h-2zM1039 597h1v1h-1zM1040 596h1v1h-1zM1041 595h2v1h-2zM1043 594h5v1h-5zM1048 595h5v1h-5zM1053 594h2v1h-2zM1055 593h2v1h-2zM1057 592h2v1h-2zM1059 591h1v1h-1zM1060 590h1v1h-1zM1061 589h2v1h-2zM1063 588h1v1h-1zM1064 587h1v1h-1zM1065 586h2v1h-2zM1067 585h6v1h-6zM1073 586h13v1h-13zM1086 587h3v1h-3zM1089 588h5v1h-5zM1094 587h3v1h-3zM1097 586h5v1h-5zM1102 587h3v1h-3zM1105 588h3v1h-3zM1108 589h1v2h-1zM1109 591h1v2h-1zM1110 593h1v1h-1zM1111 594h1v2h-1zM1112 596h1v2h-1zM1113 598h1v1h-1zM1114 599h1v2h-1zM1115 601h1v2h-1zM1116 602h1v1h-1zM1117 603h3v1h-3zM1120 604h3v1h-3zM1123 605h6v1h-6zM1129 606h3v1h-3zM1132 605h2v1h-2zM1134 604h1v1h-1zM1135 603h2v1h-2zM1137 602h2v1h-2zM1139 601h1v1h-1zM1140 602h1v1h-1zM1141 603h1v1h-1zM1142 604h1v1h-1zM1143 605h1v1h-1zM1144 606h1v1h-1zM1145 607h1v1h-1zM1146 608h1v1h-1zM1147 609h2v1h-2zM1149 610h3v1h-3zM1152 611h2v1h-2zM1154 612h2v1h-2zM1156 611h1v1h-1zM1157 609h1v2h-1zM1158 608h1v1h-1zM1159 607h1v1h-1zM1160 606h1v1h-1zM1161 604h1v2h-1zM1162 603h1v1h-1zM1163 602h5v1h-5zM1168 603h12v1h-12z"/>
</g>
<g id="ma">
<path fill="#ff00ff" d="M11 418h2v1h-2zM13 417h9v1h-9zM22 416h8v1h-8zM30 415h9v1h-9zM39 414h8v1h-8zM47 413h8v1h-8zM55 412h10v1h-10zM65 411h11v1h-11zM76 410h11v1h-11zM87 409h7v1h-7zM94 408h8v1h-8zM102 407h7v1h-7zM109 406h8v1h-8zM117 405h7v1h-7zM124 404h8v1h-8zM132 403h8v1h-8zM140 402h73v1h-73zM213 401h13v1h-13zM226 400h10v1h-10zM236 399h9v1h-9zM245 398h8v1h-8zM253 397h8v1h-8zM261 396h8v1h-8zM269 395h8v1h-8zM277 394h6v1h-6zM283 393h5v1h-5zM288 392h4v1h-4zM292 391h5v1h-5zM297 390h3v1h-3zM300 389h3v1h-3zM303 388h3v1h-3zM306 387h3v1h-3zM309 386h3v1h-3zM312 385h3v1h-3zM315 384h3v1h-3zM318 383h3v1h-3zM321 382h3v1h-3zM324 381h3v1h-3zM327 380h4v1h-4zM331 379h2v1h-2zM333 378h3v1h-3zM336 377h2v1h-2zM338 376h3v1h-3zM341 375h3v1h-3zM344 374h2v1h-2zM346 373h2v1h-2zM348 372h2v1h-2zM350 371h2v1h-2zM352 370h2v1h-2zM354 369h2v1h-2zM356 368h2v1h-2zM358 367h2v1h-2zM360 366h2v1h-2zM362 365h2v1h-2zM364 364h2v1h-2zM366 363h2v1h-2zM368 362h2v1h-2zM370 361h2v1h-2zM372 360h2v1h-2zM374 359h2v1h-2zM376 358h2v1h-2zM378 357h3v1h-3zM381 356h2v1h-2zM383 355h3v1h-3zM386 354h2v1h-2zM388 353h3v1h-3zM391 352h2v1h-2zM393 351h3v1h-3zM396 350h2v1h-2zM398 349h3v1h-3zM401 348h3v1h-3zM404 347h3v1h-3zM407 346h3v1h-3zM410 345h3v1h-3zM413 344h3v1h-3zM416 343h3v1h-3zM419 342h3v1h-3zM422 341h3v1h-3zM425 340h3v1h-3zM428 339h3v1h-3zM431 338h2v1h-2zM433 337h3v1h-3zM436 336h2v1h-2zM438 335h2v1h-2zM440 334h3v1h-3zM443 333h2v1h-2zM445 332h2v1h-2zM447 331h3v1h-3zM450 330h1v1h-1zM451 329h2v1h-2zM453 328h1v1h-1zM454 327h1v1h-1zM455 326h2v1h-2zM457 325h1v1h-1zM458 324h2v1h-2zM460 323h1v1h-1zM461 322h1v1h-1zM462 321h2v1h-2zM464 320h1v1h-1zM465 319h2v1h-2zM467 318h2v1h-2zM469 317h2v1h-2zM471 316h2v1h-2zM473 315h2v1h-2zM475 314h2v1h-2zM477 313h2v1h-2zM479 312h2v1h-2zM481 311h2v1h-2zM483 310h2v1h-2zM485 309h1v1h-1zM486 308h2v1h-2zM488 307h2v1h-2zM490 306h2v1h-2zM492 305h2v1h-2zM494 304h2v1h-2zM496 303h2v1h-2zM498 302h2v1h-2zM500 301h1v1h-1zM501 300h2v1h-2zM503 299h2v1h-2zM505 298h2v1h-2zM507 297h2v1h-2zM509 296h2v1h-2zM511 295h2v1h-2zM513 294h2v1h-2zM515 293h2v1h-2zM517 292h2v1h-2zM519 291h1v1h-1zM520 290h2v1h-2zM522 289h1v1h-1zM523 288h2v1h-2zM525 287h1v1h-1zM526 286h2v1h-2zM528 285h1v1h-1zM529 284h2v1h-2zM531 283h1v1h-1zM532 282h2v1h-2zM534 281h1v1h-1zM535 280h1v1h-1zM536 279h2v1h-2zM538 278h1v1h-1zM539 277h2v1h-2zM541 276h1v1h-1zM542 275h2v1h-2zM544 274h1v1h-1zM545 273h2v1h-2zM547 272h1v1h-1zM548 271h2v1h-2zM550 270h2v1h-2zM552 269h2v1h-2zM554 268h1v1h-1zM555 267h2v1h-2zM557 266h2v1h-2zM559 265h2v1h-2zM561 264h2v1h-2zM563 263h2v1h-2zM565 262h2v1h-2zM567 261h2v1h-2zM569 260h2v1h-2zM571 259h1v1h-1zM572 258h2v1h-2zM574 257h2v1h-2zM576 256h2v1h-2zM578 255h2v1h-2zM580 254h2v1h-2zM582 253h2v1h-2zM584 252h2v1h-2zM586 251h2v1h-2zM588 250h1v1h-1zM589 249h3v1h-3zM592 248h3v1h-3zM595 247h2v1h-2zM597 246h3v1h-3zM600 245h3v1h-3zM603 244h3v1h-3zM606 243h2v1h-2zM608 242h3v1h-3zM611 241h3v1h-3zM614 240h3v1h-3zM617 239h3v1h-3zM620 238h2v1h-2zM622 237h3v1h-3zM625 236h2v1h-2zM627 235h3v1h-3zM630 234h2v1h-2zM632 233h3v1h-3zM635 232h4v1h-4zM639 231h4v1h-4zM643 230h4v1h-4zM647 229h4v1h-4zM651 228h4v1h-4zM655 227h5v1h-5zM660 226h4v1h-4zM664 225h4v1h-4zM668 224h5v1h-5zM673 223h4v1h-4zM677 222h4v1h-4zM681 221h4v1h-4zM685 220h4v1h-4zM689 219h4v1h-4zM693 218h4v1h-4zM697 217h4v1h-4zM701 216h3v1h-3zM704 215h5v1h-5zM709 214h4v1h-4zM713 213h4v1h-4zM717 212h27v1h-27zM744 213h17v1h-17zM761 214h5v1h-5zM766 215h5v1h-5zM771 216h4v1h-4zM775 217h4v1h-4zM779 218h4v1h-4zM783 219h2v1h-2zM785 220h3v1h-3zM788 221h3v1h-3zM791 222h2v1h-2zM793 223h3v1h-3zM796 224h2v1h-2zM798 225h4v1h-4zM802 226h3v1h-3zM805 227h4v1h-4zM809 228h4v1h-4zM813 229h4v1h-4zM817 230h3v1h-3zM820 231h4v1h-4zM824 232h4v1h-4zM828 233h3v1h-3zM831 234h4v1h-4zM835 235h4v1h-4zM839 236h3v1h-3zM842 237h4v1h-4zM846 238h4v1h-4zM850 239h4v1h-4zM854 240h4v1h-4zM858 241h4v1h-4zM862 242h4v1h-4zM866 243h5v1h-5zM871 244h6v1h-6zM877 245h5v1h-5zM882 246h4v1h-4zM886 247h3v1h-3zM889 248h2v1h-2zM891 249h3v1h-3zM894 250h3v1h-3zM897 251h2v1h-2zM899 252h3v1h-3zM902 253h2v1h-2zM904 254h2v1h-2zM906 255h3v1h-3zM909 256h2v1h-2zM911 257h3v1h-3zM914 258h3v1h-3zM917 259h3v1h-3zM920 260h3v1h-3zM923 261h3v1h-3zM926 262h3v1h-3zM929 263h3v1h-3zM932 264h3v1h-3zM935 265h3v1h-3zM938 266h3v1h-3zM941 267h4v1h-4zM945 268h4v1h-4zM949 269h4v1h-4zM953 270h4v1h-4zM957 271h4v1h-4zM961 272h4v1h-4zM965 273h3v1h-3zM968 274h4v1h-4zM972 275h4v1h-4zM976 276h4v1h-4zM980 277h4v1h-4zM984 278h3v1h-3zM987 279h4v1h-4zM991 280h4v1h-4zM995 281h3v1h-3zM998 282h4v1h-4zM1002 283h4v1h-4zM1006 284h4v1h-4zM1010 285h4v1h-4zM1014 286h7v1h-7zM1021 287h24v1h-24zM1045 286h10v1h-10zM1055 285h6v1h-6zM1061 284h6v1h-6zM1067 283h6v1h-6zM1073 282h5v1h-5zM1078 281h4v1h-4zM1082 280h5v1h-5zM1087 279h4v1h-4zM1091 278h4v1h-4zM1095 277h4v1h-4zM1099 276h4v1h-4zM1103 275h5v1h-5zM1108 274h6v1h-6zM1114 273h9v1h-9zM1123 272h9v1h-9zM1132 271h9v1h-9zM1141 270h6v1h-6zM1147 269h6v1h-6zM1153 268h5v1h-5zM1158 267h6v1h-6zM1164 266h7v1h-7zM1171 265h4v1h-4zM1175 264h2v1h-2zM1177 263h2v1h-2z"/>
<path fill="#ff0000" d="M11 417h4v1h-4zM15 416h6v1h-6zM21 415h4v1h-4zM25 414h2v1h-2zM27 413h2v1h-2zM29 412h3v1h-3zM32 411h2v1h-2zM34 410h7v1h-7zM41 409h7v1h-7zM48 408h7v1h-7zM55 407h6v1h-6zM61 406h5v1h-5zM66 405h5v1h-5zM71 404h5v1h-5zM76 403h5v1h-5zM81 402h5v1h-5zM86 401h5v1h-5zM91 400h4v1h-4zM95 399h4v1h-4zM99 398h5v1h-5zM104 397h4v1h-4zM108 396h3v1h-3zM111 395h2v1h-2zM113 394h2v1h-2zM115 393h2v1h-2zM117 392h2v1h-2zM119 391h3v1h-3zM122 390h3v1h-3zM125 389h4v1h-4zM129 388h4v1h-4zM133 387h4v1h-4zM137 386h4v1h-4zM141 385h6v1h-6zM147 384h10v1h-10zM157 383h7v1h-7zM164 382h14v1h-14zM178 383h7v1h-7zM185 384h5v1h-5zM190 385h5v1h-5zM195 386h6v1h-6zM201 387h7v1h-7zM208 386h7v1h-7zM215 385h8v1h-8zM223 384h7v1h-7zM230 383h13v1h-13zM243 382h20v1h-20zM263 381h4v1h-4zM267 380h5v1h-5zM272 379h4v1h-4zM276 378h4v1h-4zM280 377h4v1h-4zM284 376h3v1h-3zM287 375h4v1h-4zM291 374h3v1h-3zM294 373h3v1h-3zM297 372h3v1h-3zM300 371h2v1h-2zM302 370h2v1h-2zM304 369h2v1h-2zM306 368h2v1h-2zM308 367h1v1h-1zM309 366h2v1h-2zM311 365h1v1h-1zM312 364h1v1h-1zM313 363h1v1h-1zM314 362h2v1h-2zM316 361h1v1h-1zM317 360h1v1h-1zM318 359h1v1h-1zM319 358h2v1h-2zM321 357h1v1h-1zM322 356h1v1h-1zM323 355h2v1h-2zM325 354h1v1h-1zM326 353h1v1h-1zM327 352h2v1h-2zM329 351h1v1h-1zM330 350h1v1h-1zM331 349h2v1h-2zM333 348h1v1h-1zM334 347h2v1h-2zM336 346h1v1h-1zM337 345h2v1h-2zM339 344h1v1h-1zM340 343h1v1h-1zM341 342h1v1h-1zM342 341h1v1h-1zM343 340h1v1h-1zM344 339h1v1h-1zM345 338h1v1h-1zM346 337h1v1h-1zM347 336h1v1h-1zM348 335h1v1h-1zM349 334h1v1h-1zM350 332h1v2h-1zM351 331h1v1h-1zM352 330h1v1h-1zM353 329h1v1h-1zM354 328h1v1h-1zM355 327h1v1h-1zM356 326h1v1h-1zM357 325h1v1h-1zM358 324h1v1h-1zM359 323h1v1h-1zM360 322h1v1h-1zM361 321h1v1h-1zM362 320h1v1h-1zM363 319h1v1h-1zM364 317h1v2h-1zM365 316h1v1h-1zM366 315h1v1h-1zM367 314h1v1h-1zM368 313h1v1h-1zM369 312h1v1h-1zM370 311h1v1h-1zM371 310h1v1h-1zM372 309h1v1h-1zM373 308h1v1h-1zM374 307h1v1h-1zM375 306h1v1h-1zM376 305h1v1h-1zM377 304h1v1h-1zM378 303h1v1h-1zM379 302h1v1h-1zM380 301h1v1h-1zM381 300h2v1h-2zM383 299h1v1h-1zM384 298h1v1h-1zM385 297h1v1h-1zM386 296h2v1h-2zM388 295h1v1h-1zM389 294h2v1h-2zM391 293h2v1h-2zM393 292h1v1h-1zM394 291h2v1h-2zM396 290h2v1h-2zM398 289h1v1h-1zM399 288h2v1h-2zM401 287h1v1h-1zM402 286h1v1h-1zM403 285h2v1h-2zM405 284h1v1h-1zM406 283h1v1h-1zM407 282h2v1h-2zM409 281h1v1h-1zM410 280h1v1h-1zM411 279h2v1h-2zM413 278h1v1h-1zM414 277h1v1h-1zM415 276h2v1h-2zM417 275h1v1h-1zM418 274h2v1h-2zM420 273h1v1h-1zM421 272h2v1h-2zM423 271h1v1h-1zM424 270h1v1h-1zM425 269h2v1h-2zM427 268h1v1h-1zM428 267h1v1h-1zM429 266h1v1h-1zM430 265h2v1h-2zM432 264h1v1h-1zM433 263h1v1h-1zM434 262h1v1h-1zM435 261h1v1h-1zM436 260h2v1h-2zM438 259h1v1h-1zM439 258h1v1h-1zM440 257h1v1h-1zM441 256h1v1h-1zM442 255h2v1h-2zM444 254h1v1h-1zM445 253h1v1h-1zM446 252h1v1h-1zM447 251h1v1h-1zM448 250h2v1h-2zM450 249h1v1h-1zM451 248h1v1h-1zM452 247h1v1h-1zM453 246h1v1h-1zM454 245h1v1h-1zM455 243h1v2h-1zM456 242h1v1h-1zM457 240h1v2h-1zM458 239h1v1h-1zM459 238h1v1h-1zM460 237h1v1h-1zM461 236h1v1h-1zM462 235h1v1h-1zM463 234h1v1h-1zM464 232h1v2h-1zM465 231h1v1h-1zM466 230h1v1h-1zM467 229h1v1h-1zM468 228h1v1h-1zM469 227h1v1h-1zM470 225h1v2h-1zM471 224h2v1h-2zM473 223h1v1h-1zM474 222h1v1h-1zM475 221h1v1h-1zM476 220h1v1h-1zM477 219h1v1h-1zM478 218h1v1h-1zM479 217h1v1h-1zM480 216h1v1h-1zM481 215h2v1h-2zM483 214h1v1h-1zM484 213h1v1h-1zM485 212h1v1h-1zM486 211h2v1h-2zM488 210h2v1h-2zM490 209h2v1h-2zM492 208h2v1h-2zM494 207h2v1h-2zM496 206h2v1h-2zM498 205h2v1h-2zM500 204h1v1h-1zM501 203h2v1h-2zM503 202h1v1h-1zM504 201h2v1h-2zM506 200h1v1h-1zM507 199h2v1h-2zM509 198h1v1h-1zM510 197h2v1h-2zM512 196h1v1h-1zM513 195h2v1h-2zM515 194h1v1h-1zM516 193h2v1h-2zM518 192h1v1h-1zM519 191h2v1h-2zM521 190h1v1h-1zM522 189h2v1h-2zM524 188h2v1h-2zM526 187h2v1h-2zM528 186h2v1h-2zM530 185h1v1h-1zM531 184h2v1h-2zM533 183h1v1h-1zM534 182h2v1h-2zM536 181h1v1h-1zM537 180h1v1h-1zM538 179h2v1h-2zM540 178h2v1h-2zM542 177h1v1h-1zM543 176h2v1h-2zM545 175h2v1h-2zM547 174h1v1h-1zM548 173h1v1h-1zM549 172h1v1h-1zM550 171h1v1h-1zM551 170h1v1h-1zM552 169h2v1h-2zM554 168h1v1h-1zM555 167h1v1h-1zM556 166h1v1h-1zM557 165h1v1h-1zM558 164h1v1h-1zM559 163h1v1h-1zM560 162h1v1h-1zM561 161h1v1h-1zM562 160h1v1h-1zM563 159h1v1h-1zM564 158h1v1h-1zM565 157h1v1h-1zM566 156h1v1h-1zM567 155h1v1h-1zM568 154h1v1h-1zM569 153h1v1h-1zM570 152h1v1h-1zM571 151h2v1h-2zM573 150h1v1h-1zM574 149h2v1h-2zM576 148h1v1h-1zM577 147h2v1h-2zM579 146h1v1h-1zM580 145h2v1h-2zM582 144h2v1h-2zM584 143h2v1h-2zM586 142h17v1h-17zM603 143h5v1h-5zM608 144h8v1h-8zM616 145h4v1h-4zM620 146h1v1h-1zM621 147h1v1h-1zM622 148h2v1h-2zM624 149h1v1h-1zM625 150h1v1h-1zM626 151h1v1h-1zM627 152h1v1h-1zM628 153h1v1h-1zM629 154h1v1h-1zM630 155h1v1h-1zM631 156h1v1h-1zM632 157h2v1h-2zM634 158h1v1h-1zM635 159h1v1h-1zM636 160h1v1h-1zM637 161h1v1h-1zM638 162h1v1h-1zM639 163h1v1h-1zM640 164h1v1h-1zM641 165h1v1h-1zM642 166h1v1h-1zM643 167h1v1h-1zM644 168h1v1h-1zM645 169h1v1h-1zM646 170h1v1h-1zM647 171h2v1h-2zM649 172h1v1h-1zM650 173h1v1h-1zM651 174h2v1h-2zM653 175h1v1h-1zM654 176h2v1h-2zM656 177h2v1h-2zM658 178h1v1h-1zM659 179h2v1h-2zM661 180h2v1h-2zM663 181h1v1h-1zM664 182h2v1h-2zM666 183h1v1h-1zM667 184h2v1h-2zM669 185h1v1h-1zM670 186h2v1h-2zM672 187h1v1h-1zM673 188h2v1h-2zM675 189h1v1h-1zM676 190h1v1h-1zM677 191h1v1h-1zM678 192h2v1h-2zM680 193h1v1h-1zM681 194h1v1h-1zM682 195h1v1h-1zM683 196h2v1h-2zM685 197h1v1h-1zM686 198h1v1h-1zM687 199h2v1h-2zM689 200h2v1h-2zM691 201h1v1h-1zM692 202h2v1h-2zM694 203h1v1h-1zM695 204h2v1h-2zM697 205h1v1h-1zM698 206h1v1h-1zM699 207h1v1h-1zM700 208h1v1h-1zM701 209h1v1h-1zM702 210h1v1h-1zM703 211h1v1h-1zM704 212h1v1h-1zM705 213h1v1h-1zM706 214h1v1h-1zM707 215h1v1h-1zM708 216h1v1h-1zM709 217h1v1h-1zM710 218h1v1h-1zM711 219h1v2h-1zM712 221h1v1h-1zM713 222h1v1h-1zM714 223h1v1h-1zM715 224h1v1h-1zM716 225h1v1h-1zM717 226h1v1h-1zM718 227h1v1h-1zM719 228h1v1h-1zM720 229h1v1h-1zM721 230h1v1h-1zM722 231h1v2h-1zM723 233h1v1h-1zM724 234h1v1h-1zM725 235h1v1h-1zM726 236h1v1h-1zM727 237h1v1h-1zM728 238h1v1h-1zM729 239h1v1h-1zM730 240h1v1h-1zM731 241h1v2h-1zM732 243h1v1h-1zM733 244h1v1h-1zM734 245h1v2h-1zM735 247h1v1h-1zM736 248h1v1h-1zM737 249h1v2h-1zM738 251h1v1h-1zM739 252h1v1h-1zM740 253h1v1h-1zM741 254h1v1h-1zM742 255h1v1h-1zM743 256h1v1h-1zM744 257h1v1h-1zM745 258h1v1h-1zM746 259h1v1h-1zM747 260h1v1h-1zM748 261h2v1h-2zM750 262h1v1h-1zM751 263h2v1h-2zM753 264h1v1h-1zM754 265h2v1h-2zM756 266h2v1h-2zM758 267h1v1h-1zM759 268h2v1h-2zM761 269h2v1h-2zM763 270h1v1h-1zM764 271h2v1h-2zM766 272h2v1h-2zM768 273h1v1h-1zM769 274h2v1h-2zM771 275h1v1h-1zM772 276h2v1h-2zM774 277h1v1h-1zM775 278h1v1h-1zM776 279h1v1h-1zM777 280h2v1h-2zM779 281h1v1h-1zM780 282h1v1h-1zM781 283h1v1h-1zM782 284h1v1h-1zM783 285h1v1h-1zM784 286h2v1h-2zM786 287h1v1h-1zM787 288h1v1h-1zM788 289h1v1h-1zM789 290h1v1h-1zM790 291h2v1h-2zM792 292h1v1h-1zM793 293h1v1h-1zM794 294h1v1h-1zM795 295h1v1h-1zM796 296h2v1h-2zM798 297h2v1h-2zM800 298h1v1h-1zM801 299h2v1h-2zM803 300h2v1h-2zM805 301h2v1h-2zM807 302h2v1h-2zM809 303h2v1h-2zM811 304h2v1h-2zM813 305h4v1h-4zM817 306h4v1h-4zM821 307h2v1h-2zM823 308h2v1h-2zM825 309h2v1h-2zM827 310h1v1h-1zM828 311h2v1h-2zM830 312h1v1h-1zM831 313h1v1h-1zM832 314h2v1h-2zM834 315h1v1h-1zM835 316h2v1h-2zM837 317h1v1h-1zM838 318h2v1h-2zM840 319h2v1h-2zM842 320h1v1h-1zM843 321h2v1h-2zM845 322h2v1h-2zM847 323h1v1h-1zM848 324h2v1h-2zM850 325h1v1h-1zM851 326h2v1h-2zM853 327h1v1h-1zM854 328h1v1h-1zM855 329h2v1h-2zM857 330h1v1h-1zM858 331h1v1h-1zM859 332h2v1h-2zM861 333h2v1h-2zM863 334h2v1h-2zM865 335h2v1h-2zM867 336h2v1h-2zM869 337h3v1h-3zM872 338h3v1h-3zM875 339h3v1h-3zM878 340h4v1h-4zM882 341h5v1h-5zM887 342h13v1h-13zM900 341h4v1h-4zM904 340h5v1h-5zM909 339h16v1h-16zM925 338h3v1h-3zM928 337h3v1h-3zM931 336h3v1h-3zM934 335h3v1h-3zM937 334h3v1h-3zM940 333h2v1h-2zM942 332h1v1h-1zM943 331h2v1h-2zM945 330h2v1h-2zM947 329h1v1h-1zM948 328h2v1h-2zM950 327h2v1h-2zM952 326h1v1h-1zM953 325h2v1h-2zM955 324h1v1h-1zM956 323h2v1h-2zM958 322h1v1h-1zM959 321h1v1h-1zM960 320h2v1h-2zM962 319h1v1h-1zM963 318h1v1h-1zM964 317h1v1h-1zM965 316h2v1h-2zM967 315h1v1h-1zM968 314h1v1h-1zM969 313h1v1h-1zM970 312h2v1h-2zM972 311h1v1h-1zM973 310h1v1h-1zM974 309h2v1h-2zM976 308h1v1h-1zM977 307h1v1h-1zM978 306h2v1h-2zM980 305h1v1h-1zM981 304h1v1h-1zM982 303h2v1h-2zM984 302h1v1h-1zM985 301h1v1h-1zM986 300h2v1h-2zM988 299h1v1h-1zM989 298h1v1h-1zM990 297h1v1h-1zM991 296h1v1h-1zM992 295h1v1h-1zM993 294h1v1h-1zM994 293h1v1h-1zM995 292h2v1h-2zM997 291h1v1h-1zM998 290h1v1h-1zM999 289h1v1h-1zM1000 288h1v1h-1zM1001 287h1v1h-1zM1002 286h1v1h-1zM1003 285h1v1h-1zM1004 284h1v1h-1zM1005 283h1v1h-1zM1006 282h1v1h-1zM1007 281h1v1h-1zM1008 280h1v1h-1zM1009 279h1v1h-1zM1010 278h1v1h-1zM1011 277h1v1h-1zM1012 276h1v1h-1zM1013 275h2v1h-2zM1015 274h1v1h-1zM1016 273h1v1h-1zM1017 272h1v1h-1zM1018 271h1v1h-1zM1019 270h1v1h-1zM1020 269h1v1h-1zM1021 268h1v1h-1zM1022 267h1v1h-1zM1023 266h2v1h-2zM1025 265h1v1h-1zM1026 264h2v1h-2zM1028 263h1v1h-1zM1029 262h2v1h-2zM1031 261h1v1h-1zM1032 260h2v1h-2zM1034 259h1v1h-1zM1035 258h1v1h-1zM1036 257h2v1h-2zM1038 256h1v1h-1zM1039 255h2v1h-2zM1041 254h1v1h-1zM1042 253h1v1h-1zM1043 252h2v1h-2zM1045 251h1v1h-1zM1046 250h2v1h-2zM1048 249h2v1h-2zM1050 248h1v1h-1zM1051 247h2v1h-2zM1053 246h1v1h-1zM1054 245h2v1h-2zM1056 244h2v1h-2zM1058 243h1v1h-1zM1059 242h2v1h-2zM1061 241h1v1h-1zM1062 240h1v1h-1zM1063 239h2v1h-2zM1065 238h1v1h-1zM1066 237h2v1h-2zM1068 236h1v1h-1zM1069 235h1v1h-1zM1070 234h2v1h-2zM1072 233h1v1h-1zM1073 232h2v1h-2zM1075 231h1v1h-1zM1076 230h2v1h-2zM1078 229h1v1h-1zM1079 228h2v1h-2zM1081 227h1v1h-1zM1082 226h2v1h-2zM1084 225h1v1h-1zM1085 224h2v1h-2zM1087 223h1v1h-1zM1088 222h2v1h-2zM1090 221h1v1h-1zM1091 220h2v1h-2zM1093 219h1v1h-1zM1094 218h1v1h-1zM1095 217h1v1h-1zM1096 216h2v1h-2zM1098 215h1v1h-1zM1099 214h1v1h-1zM1100 213h2v1h-2zM1102 212h1v1h-1zM1103 211h1v1h-1zM1104 210h2v1h-2zM1106 209h3v1h-3zM1109 208h2v1h-2zM1111 207h2v1h-2zM1113 206h3v1h-3zM1116 205h2v1h-2zM1118 204h2v1h-2zM1120 203h4v1h-4zM1124 202h3v1h-3zM1127 201h4v1h-4zM1131 200h4v1h-4zM1135 199h25v1h-25zM1160 198h4v1h-4zM1164 197h11v1h-11zM1175 196h5v1h-5z"/>
</g>
<g id="levels">
<rect x="11" y="183" width="1188" height="2" fill="#00d400"/>
<rect x="11" y="244" width="1188" height="2" fill="#4058e4"/>
<rect x="11" y="297" width="1188" height="2" fill="#4058e4"/>
<rect x="11" y="345" width="1188" height="2" fill="#4058e4"/>
</g>
<g id="borders">
<rect x="10" y="4" width="1" height="668" fill="#000"/>
<rect x="1198" y="4" width="1" height="668" fill="#000"/>
<rect x="10" y="4" width="1189" height="1" fill="#000"/>
<rect x="10" y="671" width="1189" height="1" fill="#000"/>
<rect x="10" y="433" width="1189" height="1" fill="#000"/>
<rect x="8" y="434" width="1194" height="1" fill="#fff"/>
<rect x="10" y="435" width="1189" height="1" fill="#000"/>
<rect x="10" y="550" width="1189" height="1" fill="#000"/>
<rect x="8" y="551" width="1194" height="1" fill="#fff"/>
<rect x="10" y="552" width="1189" height="1" fill="#000"/>
<rect x="1198" y="183" width="1" height="2" fill="#00d400"/>
<rect x="1198" y="244" width="1" height="2" fill="#4058e4"/>
<rect x="1198" y="297" width="1" height="2" fill="#4058e4"/>
<rect x="1198" y="345" width="1" height="2" fill="#4058e4"/>
<rect x="1199" y="34" width="2" height="1" fill="#000"/>
<rect x="1199" y="67" width="2" height="1" fill="#000"/>
<rect x="1199" y="100" width="2" height="1" fill="#000"/>
<rect x="1199" y="133" width="2" height="1" fill="#000"/>
<rect x="1199" y="166" width="2" height="1" fill="#000"/>
<rect x="1199" y="199" width="2" height="1" fill="#000"/>
<rect x="1199" y="232" width="2" height="1" fill="#000"/>
<rect x="1199" y="265" width="2" height="1" fill="#000"/>
<rect x="1199" y="331" width="2" height="1" fill="#000"/>
<rect x="1199" y="364" width="2" height="1" fill="#000"/>
<rect x="1199" y="397" width="2" height="1" fill="#000"/>
<rect x="1199" y="430" width="2" height="1" fill="#000"/>
<rect x="1199" y="499" width="2" height="1" fill="#000"/>
<rect x="1199" y="437" width="1" height="1" fill="#000"/>
<rect x="1199" y="549" width="1" height="1" fill="#000"/>
<rect x="1199" y="554" width="1" height="1" fill="#000"/>
<rect x="1199" y="670" width="1" height="1" fill="#000"/>
<rect x="11" y="672" width="1" height="3" fill="#000"/>
<rect x="75" y="672" width="1" height="3" fill="#000"/>
<rect x="139" y="672" width="1" height="3" fill="#000"/>
<rect x="203" y="672" width="1" height="3" fill="#000"/>
<rect x="267" y="672" width="1" height="3" fill="#000"/>
<rect x="331" y="672" width="1" height="3" fill="#000"/>
<rect x="395" y="672" width="1" height="3" fill="#000"/>
<rect x="459" y="672" width="1" height="3" fill="#000"/>
<rect x="523" y="672" width="1" height="3" fill="#000"/>
<rect x="587" y="672" width="1" height="3" fill="#000"/>
<rect x="651" y="672" width="1" height="3" fill="#000"/>
<rect x="715" y="672" width="1" height="3" fill="#000"/>
<rect x="779" y="672" width="1" height="3" fill="#000"/>
<rect x="843" y="672" width="1" height="3" fill="#000"/>
<rect x="907" y="672" width="1" height="3" fill="#000"/>
<rect x="971" y="672" width="1" height="3" fill="#000"/>
<rect x="1035" y="672" width="1" height="3" fill="#000"/>
<rect x="1099" y="672" width="1" height="3" fill="#000"/>
<rect x="1163" y="672" width="1" height="3" fill="#000"/>
</g>
<g id="labels">
<text x="1204.3" y="37.6" fill="#000" stroke="#000" stroke-width="0.1" textLength="32.5" lengthAdjust="spacingAndGlyphs">137.040</text>
<text x="1204.3" y="70.6" fill="#000" stroke="#000" stroke-width="0.1" textLength="32.5" lengthAdjust="spacingAndGlyphs">133.300</text>
<text x="1204.3" y="103.6" fill="#000" stroke="#000" stroke-width="0.1" textLength="32.5" lengthAdjust="spacingAndGlyphs">129.560</text>
<text x="1204.3" y="136.6" fill="#000" stroke="#000" stroke-width="0.1" textLength="32.5" lengthAdjust="spacingAndGlyphs">125.820</text>
<text x="1204.3" y="169.6" fill="#000" stroke="#000" stroke-width="0.1" textLength="32.5" lengthAdjust="spacingAndGlyphs">121.970</text>
<text x="1204.3" y="202.6" fill="#000" stroke="#000" stroke-width="0.1" textLength="31.9" lengthAdjust="spacingAndGlyphs">118.230</text>
<text x="1204.3" y="235.6" fill="#000" stroke="#000" stroke-width="0.1" textLength="31.9" lengthAdjust="spacingAndGlyphs">114.490</text>
<text x="1204.3" y="268.6" fill="#000" stroke="#000" stroke-width="0.1" textLength="31.9" lengthAdjust="spacingAndGlyphs">110.750</text>
<text x="1204.3" y="334.6" fill="#000" stroke="#000" stroke-width="0.1" textLength="32.5" lengthAdjust="spacingAndGlyphs">103.160</text>
<text x="1204.3" y="367.6" fill="#000" stroke="#000" stroke-width="0.1" textLength="27.5" lengthAdjust="spacingAndGlyphs">99.420</text>
<text x="1204.3" y="400.6" fill="#000" stroke="#000" stroke-width="0.1" textLength="27.5" lengthAdjust="spacingAndGlyphs">95.680</text>
<text x="1204.3" y="433.6" fill="#000" stroke="#000" stroke-width="0.1" textLength="27.5" lengthAdjust="spacingAndGlyphs">91.940</text>
<text x="1201.6" y="446.2" fill="#000" stroke="#000" stroke-width="0.1" textLength="27.5" lengthAdjust="spacingAndGlyphs">6.1457</text>
<text x="1201.6" y="503.2" fill="#000" stroke="#000" stroke-width="0.1" textLength="17.5" lengthAdjust="spacingAndGlyphs">0.00</text>
<text x="1201.6" y="547.2" fill="#000" stroke="#000" stroke-width="0.1" textLength="30.5" lengthAdjust="spacingAndGlyphs">-4.9783</text>
<text x="1201.6" y="563.2" fill="#000" stroke="#000" stroke-width="0.1" textLength="15.0" lengthAdjust="spacingAndGlyphs">100</text>
<text x="1200.7" y="593.2" fill="#000" stroke="#000" stroke-width="0.1" textLength="10.0" lengthAdjust="spacingAndGlyphs">70</text>
<text x="1200.7" y="639.2" fill="#000" stroke="#000" stroke-width="0.1" textLength="10.0" lengthAdjust="spacingAndGlyphs">30</text>
<text x="1201.6" y="668.0" fill="#000" stroke="#000" stroke-width="0.1" textLength="5.0" lengthAdjust="spacingAndGlyphs">0</text>
<text x="10" y="683.6" fill="#000" stroke="#000" stroke-width="0.1" textLength="51.6" lengthAdjust="spacingAndGlyphs">21 Feb 2022</text>
<text x="74" y="683.6" fill="#000" stroke="#000" stroke-width="0.1" textLength="54.1" lengthAdjust="spacingAndGlyphs">23 Feb 01:00</text>
<text x="138" y="683.6" fill="#000" stroke="#000" stroke-width="0.1" textLength="54.1" lengthAdjust="spacingAndGlyphs">24 Feb 13:00</text>
<text x="202" y="683.6" fill="#000" stroke="#000" stroke-width="0.1" textLength="54.1" lengthAdjust="spacingAndGlyphs">25 Feb 21:00</text>
<text x="266" y="683.6" fill="#000" stroke="#000" stroke-width="0.1" textLength="49.0" lengthAdjust="spacingAndGlyphs">1 Mar 01:00</text>
<text x="330" y="683.6" fill="#000" stroke="#000" stroke-width="0.1" textLength="49.0" lengthAdjust="spacingAndGlyphs">2 Mar 09:00</text>
<text x="394" y="683.6" fill="#000" stroke="#000" stroke-width="0.1" textLength="49.0" lengthAdjust="spacingAndGlyphs">3 Mar 17:00</text>
<text x="458" y="683.6" fill="#000" stroke="#000" stroke-width="0.1" textLength="49.0" lengthAdjust="spacingAndGlyphs">6 Mar 23:00</text>
<text x="522" y="683.6" fill="#000" stroke="#000" stroke-width="0.1" textLength="49.0" lengthAdjust="spacingAndGlyphs">8 Mar 05:00</text>
<text x="586" y="683.6" fill="#000" stroke="#000" stroke-width="0.1" textLength="49.0" lengthAdjust="spacingAndGlyphs">9 Mar 13:00</text>
<text x="650" y="683.6" fill="#000" stroke="#000" stroke-width="0.1" textLength="54.1" lengthAdjust="spacingAndGlyphs">10 Mar 21:00</text>
<text x="714" y="683.6" fill="#000" stroke="#000" stroke-width="0.1" textLength="54.1" lengthAdjust="spacingAndGlyphs">14 Mar 00:00</text>
<text x="778" y="683.6" fill="#000" stroke="#000" stroke-width="0.1" textLength="54.1" lengthAdjust="spacingAndGlyphs">15 Mar 08:00</text>
<text x="842" y="683.6" fill="#000" stroke="#000" stroke-width="0.1" textLength="54.1" lengthAdjust="spacingAndGlyphs">16 Mar 16:00</text>
<text x="906" y="683.6" fill="#000" stroke="#000" stroke-width="0.1" textLength="54.1" lengthAdjust="spacingAndGlyphs">18 Mar 00:00</text>
<text x="970" y="683.6" fill="#000" stroke="#000" stroke-width="0.1" textLength="54.1" lengthAdjust="spacingAndGlyphs">21 Mar 12:00</text>
<text x="1034" y="683.6" fill="#000" stroke="#000" stroke-width="0.1" textLength="54.1" lengthAdjust="spacingAndGlyphs">22 Mar 20:00</text>
<text x="1098" y="683.6" fill="#000" stroke="#000" stroke-width="0.1" textLength="54.1" lengthAdjust="spacingAndGlyphs">24 Mar 04:00</text>
<text x="1162" y="683.6" fill="#000" stroke="#000" stroke-width="0.1" textLength="54.1" lengthAdjust="spacingAndGlyphs">25 Mar 12:00</text>
<rect x="1201" y="185" width="39" height="11" fill="#000"/>
<text x="1204.3" y="193.6" fill="#fff" stroke="#fff" stroke-width="0.1" textLength="31.9" lengthAdjust="spacingAndGlyphs">119.268</text>
<rect x="1201" y="178" width="39" height="11" fill="#00d400"/>
<text x="1204.3" y="186.6" fill="#fff" stroke="#fff" stroke-width="0.1" textLength="32.5" lengthAdjust="spacingAndGlyphs">120.000</text>
<rect x="1201" y="239" width="39" height="11" fill="#4058e4"/>
<text x="1204.3" y="247.6" fill="#fff" stroke="#fff" stroke-width="0.1" textLength="31.9" lengthAdjust="spacingAndGlyphs">113.000</text>
<rect x="1201" y="292" width="39" height="11" fill="#4058e4"/>
<text x="1204.3" y="300.6" fill="#fff" stroke="#fff" stroke-width="0.1" textLength="32.5" lengthAdjust="spacingAndGlyphs">107.000</text>
<rect x="1201" y="340" width="39" height="11" fill="#4058e4"/>
<text x="1204.3" y="348.6" fill="#fff" stroke="#fff" stroke-width="0.1" textLength="32.5" lengthAdjust="spacingAndGlyphs">101.500</text>
<rect x="14" y="11" width="7" height="1" fill="#000"/>
<rect x="15" y="12" width="5" height="1" fill="#000"/>
<rect x="16" y="13" width="3" height="1" fill="#000"/>
<rect x="17" y="14" width="1" height="1" fill="#000"/>
<text x="25.5" y="15.6" fill="#000" stroke="#000" stroke-width="0.1" textLength="44.4" lengthAdjust="spacingAndGlyphs" id="t1">UKOil-,H4</text>
<text x="74.9" y="15.6" fill="#000" stroke="#000" stroke-width="0.1" textLength="140.2" lengthAdjust="spacingAndGlyphs" id="t1b">119.408 119.455 119.020 119.268</text>
<text x="14.5" y="447.6" fill="#000" stroke="#000" stroke-width="0.1" textLength="128.3" lengthAdjust="spacingAndGlyphs" id="t2">MACD(12,26,9) 1.5492 2.1115</text>
<text x="14.5" y="564.6" fill="#000" stroke="#000" stroke-width="0.1" textLength="67.6" lengthAdjust="spacingAndGlyphs" id="t3">RSI(14) 57.5277</text>
</g>
<text id="anno" x="708" y="115" fill="#ff1a1a" font-size="34.7px" font-weight="350" font-family="'Liberation Sans', 'Noto Sans CJK SC', sans-serif" text-rendering="geometricPrecision" shape-rendering="auto">多空转折点120</text>
</svg>
</body></html>
